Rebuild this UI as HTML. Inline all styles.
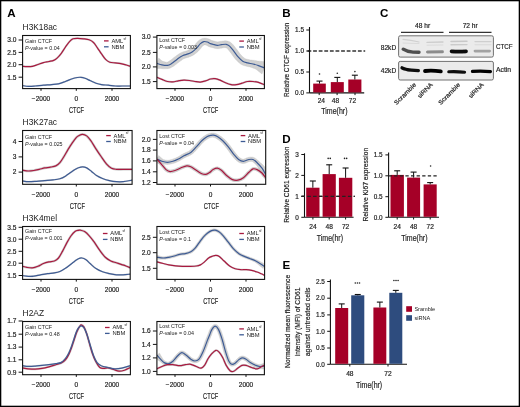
<!DOCTYPE html><html><head><meta charset="utf-8"><style>html,body{margin:0;padding:0;background:#fff;}svg{display:block;will-change:transform;}text{font-family:"Liberation Sans", sans-serif;}.b{stroke:#222;stroke-width:0.18px;}</style></head><body>
<svg width="520" height="407" viewBox="0 0 520 407">
<defs><filter id="bl" x="-20%" y="-50%" width="140%" height="200%"><feGaussianBlur stdDeviation="0.7"/></filter><filter id="bl2" x="-20%" y="-50%" width="140%" height="200%"><feGaussianBlur stdDeviation="0.45"/></filter></defs>
<rect x="0" y="0" width="520" height="407" fill="#fff"/>
<text x="7.2" y="16.6" font-size="11.6" font-weight="bold" fill="#000">A</text>
<text x="282.2" y="16.7" font-size="11.6" font-weight="bold" fill="#000">B</text>
<text x="380" y="16.6" font-size="11.6" font-weight="bold" fill="#000">C</text>
<text x="282.2" y="142.6" font-size="11.6" font-weight="bold" fill="#000">D</text>
<text x="282.6" y="269.2" font-size="11.6" font-weight="bold" fill="#000">E</text>
<g clip-path="url(#clip22_35)">
<path d="M22.5,66.3 C23.23,66.35 25.25,66.6 26.9,66.6 C28.55,66.6 30.57,66.65 32.4,66.3 C34.23,65.95 36.07,65.12 37.9,64.5 C39.73,63.88 41.57,63.1 43.4,62.6 C45.23,62.1 47.18,61.87 48.9,61.5 C50.62,61.13 52.33,60.97 53.7,60.4 C55.07,59.83 55.83,59.28 57.1,58.1 C58.37,56.92 59.92,55.13 61.3,53.3 C62.68,51.47 64.03,49.05 65.4,47.1 C66.77,45.15 68.23,42.98 69.5,41.6 C70.77,40.22 71.63,39.35 73,38.8 C74.37,38.25 75.95,38.3 77.7,38.3 C79.45,38.3 81.6,38.55 83.5,38.8 C85.4,39.05 87.43,39.18 89.1,39.8 C90.77,40.42 92.12,41.17 93.5,42.5 C94.88,43.83 96.07,45.9 97.4,47.8 C98.73,49.7 100.13,51.97 101.5,53.9 C102.87,55.83 104.22,58.02 105.6,59.4 C106.98,60.78 108.18,61.62 109.8,62.2 C111.42,62.78 113.47,62.67 115.3,62.9 C117.13,63.13 118.97,63.25 120.8,63.6 C122.63,63.95 124.7,64.55 126.3,65 C127.9,65.45 129.72,66.08 130.4,66.3" fill="none" stroke="#bdbdbd" stroke-opacity="0.75" stroke-width="2" stroke-linecap="round"/>
<path d="M22.5,85.6 C23.47,85.72 26.2,86.23 28.3,86.3 C30.4,86.37 32.58,86.18 35.1,86 C37.62,85.82 40.65,85.43 43.4,85.2 C46.15,84.97 49.08,84.83 51.6,84.6 C54.12,84.37 56.2,84.32 58.5,83.8 C60.8,83.28 63.1,82.35 65.4,81.5 C67.7,80.65 70.3,79.37 72.3,78.7 C74.3,78.03 75.97,77.73 77.4,77.5 C78.83,77.27 79.63,77.17 80.9,77.3 C82.17,77.43 83.4,77.72 85,78.3 C86.6,78.88 88.67,79.98 90.5,80.8 C92.33,81.62 94.17,82.57 96,83.2 C97.83,83.83 99.43,84.27 101.5,84.6 C103.57,84.93 106.1,84.97 108.4,85.2 C110.7,85.43 113.02,85.87 115.3,86 C117.58,86.13 119.58,86 122.1,86 C124.62,86 129.02,86 130.4,86" fill="none" stroke="#bdbdbd" stroke-opacity="0.75" stroke-width="1.6" stroke-linecap="round"/>
<path d="M22.5,66.3 C23.23,66.35 25.25,66.6 26.9,66.6 C28.55,66.6 30.57,66.65 32.4,66.3 C34.23,65.95 36.07,65.12 37.9,64.5 C39.73,63.88 41.57,63.1 43.4,62.6 C45.23,62.1 47.18,61.87 48.9,61.5 C50.62,61.13 52.33,60.97 53.7,60.4 C55.07,59.83 55.83,59.28 57.1,58.1 C58.37,56.92 59.92,55.13 61.3,53.3 C62.68,51.47 64.03,49.05 65.4,47.1 C66.77,45.15 68.23,42.98 69.5,41.6 C70.77,40.22 71.63,39.35 73,38.8 C74.37,38.25 75.95,38.3 77.7,38.3 C79.45,38.3 81.6,38.55 83.5,38.8 C85.4,39.05 87.43,39.18 89.1,39.8 C90.77,40.42 92.12,41.17 93.5,42.5 C94.88,43.83 96.07,45.9 97.4,47.8 C98.73,49.7 100.13,51.97 101.5,53.9 C102.87,55.83 104.22,58.02 105.6,59.4 C106.98,60.78 108.18,61.62 109.8,62.2 C111.42,62.78 113.47,62.67 115.3,62.9 C117.13,63.13 118.97,63.25 120.8,63.6 C122.63,63.95 124.7,64.55 126.3,65 C127.9,65.45 129.72,66.08 130.4,66.3" fill="none" stroke="#a8193f" stroke-width="1.2"/>
<path d="M22.5,85.6 C23.47,85.72 26.2,86.23 28.3,86.3 C30.4,86.37 32.58,86.18 35.1,86 C37.62,85.82 40.65,85.43 43.4,85.2 C46.15,84.97 49.08,84.83 51.6,84.6 C54.12,84.37 56.2,84.32 58.5,83.8 C60.8,83.28 63.1,82.35 65.4,81.5 C67.7,80.65 70.3,79.37 72.3,78.7 C74.3,78.03 75.97,77.73 77.4,77.5 C78.83,77.27 79.63,77.17 80.9,77.3 C82.17,77.43 83.4,77.72 85,78.3 C86.6,78.88 88.67,79.98 90.5,80.8 C92.33,81.62 94.17,82.57 96,83.2 C97.83,83.83 99.43,84.27 101.5,84.6 C103.57,84.93 106.1,84.97 108.4,85.2 C110.7,85.43 113.02,85.87 115.3,86 C117.58,86.13 119.58,86 122.1,86 C124.62,86 129.02,86 130.4,86" fill="none" stroke="#3d5b94" stroke-width="1.2"/>
</g>
<clipPath id="clip22_35"><rect x="22.6" y="35.5" width="107.8" height="53.1"/></clipPath>
<rect x="22.6" y="35.5" width="107.8" height="53.1" fill="none" stroke="#111" stroke-width="1.1"/>
<line x1="18.6" y1="40" x2="22.6" y2="40" stroke="#111" stroke-width="1"/>
<text x="16.5" y="42.3" font-size="6.6" text-anchor="end" fill="#222" class="b">3.0</text>
<line x1="18.6" y1="52.4" x2="22.6" y2="52.4" stroke="#111" stroke-width="1"/>
<text x="16.5" y="54.7" font-size="6.6" text-anchor="end" fill="#222" class="b">2.5</text>
<line x1="18.6" y1="64.7" x2="22.6" y2="64.7" stroke="#111" stroke-width="1"/>
<text x="16.5" y="67" font-size="6.6" text-anchor="end" fill="#222" class="b">2.0</text>
<line x1="18.6" y1="77.2" x2="22.6" y2="77.2" stroke="#111" stroke-width="1"/>
<text x="16.5" y="79.5" font-size="6.6" text-anchor="end" fill="#222" class="b">1.5</text>
<line x1="41" y1="88.6" x2="41" y2="90.8" stroke="#111" stroke-width="1"/>
<text x="41" y="100.8" font-size="6.5" text-anchor="middle" fill="#222" class="b">−2000</text>
<line x1="76.3" y1="88.6" x2="76.3" y2="90.8" stroke="#111" stroke-width="1"/>
<text x="76.3" y="100.8" font-size="6.5" text-anchor="middle" fill="#222" class="b">0</text>
<line x1="112" y1="88.6" x2="112" y2="90.8" stroke="#111" stroke-width="1"/>
<text x="112" y="100.8" font-size="6.5" text-anchor="middle" fill="#222" class="b">2000</text>
<text x="76.5" y="113.2" font-size="9.8" text-anchor="middle" textLength="15.2" lengthAdjust="spacingAndGlyphs" fill="#222" class="b">CTCF</text>
<text x="25" y="42.9" font-size="5.35" fill="#222">Gain CTCF</text>
<text x="25" y="49.8" font-size="5.35" fill="#222"><tspan font-style="italic">P</tspan>-value = 0.04</text>
<line x1="104" y1="40.9" x2="108.6" y2="40.9" stroke="#a8193f" stroke-width="1.3"/>
<line x1="104" y1="46.8" x2="108.6" y2="46.8" stroke="#3d5b94" stroke-width="1.3"/>
<text x="111.4" y="42.8" font-size="5.8" fill="#222">AML</text>
<text x="123.6" y="39.6" font-size="3.2" fill="#222">sf</text>
<text x="111.4" y="48.7" font-size="5.8" fill="#222">NBM</text>
<text x="22.6" y="29.9" font-size="8.4" textLength="34.4" lengthAdjust="spacingAndGlyphs" fill="#222">H3K18ac</text>
<g clip-path="url(#clip156_35)">
<path d="M155.28,68.73 L155.5,68.7 L155.78,68.66 L156.15,68.63 L156.59,68.62 L157.08,68.6 L157.62,68.58 L158.19,68.56 L158.78,68.54 L159.39,68.51 L160,68.47 L160.59,68.55 L161.15,68.62 L161.66,68.66 L162.15,68.69 L162.67,68.73 L163.2,68.76 L163.75,68.78 L164.31,68.79 L164.88,68.79 L165.45,68.78 L166.03,68.76 L166.63,68.76 L167.23,68.74 L167.83,68.68 L168.39,68.59 L168.92,68.47 L169.44,68.33 L169.94,68.17 L170.42,67.98 L170.87,67.78 L171.3,67.57 L171.71,67.35 L172.1,67.12 L172.48,66.89 L172.86,66.65 L173.29,66.39 L173.77,66.07 L174.27,65.72 L174.77,65.36 L175.27,64.98 L175.76,64.59 L176.24,64.21 L176.72,63.82 L177.19,63.44 L177.65,63.08 L178.1,62.73 L178.53,62.4 L178.96,62.09 L179.42,61.76 L179.89,61.42 L180.35,61.08 L180.8,60.75 L181.24,60.43 L181.67,60.13 L182.09,59.83 L182.5,59.56 L182.89,59.31 L183.28,59.08 L183.64,58.87 L183.98,58.69 L184.3,58.55 L184.63,58.41 L184.99,58.28 L185.37,58.16 L185.78,58.04 L186.22,57.92 L186.67,57.8 L187.15,57.68 L187.64,57.54 L188.16,57.39 L188.69,57.22 L189.2,57.03 L189.63,56.86 L190.02,56.7 L190.41,56.55 L190.79,56.39 L191.17,56.22 L191.56,56.04 L191.95,55.86 L192.34,55.66 L192.74,55.44 L193.14,55.21 L193.55,54.97 L193.96,54.7 L194.36,54.43 L194.76,54.15 L195.16,53.85 L195.56,53.55 L195.96,53.23 L196.36,52.91 L196.75,52.58 L197.14,52.24 L197.53,51.89 L197.92,51.53 L198.3,51.16 L198.7,50.77 L199.13,50.32 L199.55,49.85 L199.95,49.38 L200.33,48.91 L200.7,48.44 L201.05,48 L201.39,47.57 L201.71,47.18 L202,46.82 L202.27,46.52 L202.49,46.28 L202.7,46.08 L202.92,45.89 L203.14,45.7 L203.35,45.54 L203.54,45.4 L203.71,45.28 L203.86,45.19 L204,45.11 L204.12,45.05 L204.23,45.01 L204.34,44.97 L204.45,44.93 L204.54,44.91 L204.59,44.9 L204.63,44.9 L204.69,44.9 L204.78,44.9 L204.9,44.91 L205.05,44.93 L205.21,44.96 L205.4,45 L205.61,45.05 L205.83,45.11 L206.08,45.18 L206.28,45.24 L206.39,45.28 L206.5,45.32 L206.64,45.39 L206.82,45.48 L207.03,45.6 L207.26,45.73 L207.52,45.88 L207.81,46.05 L208.11,46.22 L208.45,46.4 L208.83,46.59 L209.21,46.75 L209.56,46.89 L209.86,46.99 L210.15,47.09 L210.43,47.17 L210.7,47.24 L210.95,47.3 L211.18,47.36 L211.4,47.41 L211.61,47.45 L211.82,47.5 L212.04,47.55 L212.26,47.61 L212.49,47.67 L212.75,47.74 L213.06,47.84 L213.41,47.94 L213.78,48.06 L214.19,48.17 L214.62,48.29 L215.07,48.4 L215.55,48.51 L216.05,48.6 L216.58,48.67 L217.13,48.72 L217.69,48.73 L218.22,48.71 L218.72,48.66 L219.18,48.59 L219.61,48.52 L220,48.44 L220.36,48.37 L220.69,48.3 L221,48.24 L221.28,48.18 L221.54,48.14 L221.84,48.1 L222.23,48.06 L222.68,47.99 L223.1,47.93 L223.51,47.87 L223.91,47.81 L224.28,47.76 L224.62,47.72 L224.93,47.69 L225.19,47.68 L225.41,47.68 L225.55,47.69 L225.67,47.7 L225.82,47.73 L225.97,47.77 L226.09,47.8 L226.18,47.83 L226.25,47.86 L226.32,47.9 L226.4,47.95 L226.51,48.02 L226.65,48.12 L226.83,48.26 L227.04,48.44 L227.26,48.64 L227.48,48.85 L227.72,49.1 L228,49.41 L228.3,49.76 L228.61,50.15 L228.94,50.56 L229.29,51 L229.63,51.45 L229.99,51.92 L230.35,52.39 L230.71,52.87 L231.06,53.31 L231.38,53.73 L231.68,54.15 L232,54.58 L232.32,55.04 L232.64,55.5 L232.98,55.99 L233.33,56.48 L233.69,56.98 L234.07,57.48 L234.46,57.99 L234.87,58.5 L235.29,58.99 L235.7,59.45 L236.1,59.89 L236.52,60.34 L236.95,60.79 L237.39,61.24 L237.84,61.69 L238.3,62.13 L238.78,62.56 L239.26,62.97 L239.76,63.37 L240.28,63.76 L240.81,64.13 L241.37,64.47 L241.93,64.77 L242.48,65.03 L243.02,65.25 L243.54,65.44 L244.04,65.6 L244.52,65.74 L244.97,65.86 L245.41,65.97 L245.82,66.07 L246.21,66.17 L246.62,66.28 L247.11,66.41 L247.63,66.53 L248.14,66.64 L248.64,66.73 L249.13,66.82 L249.61,66.93 L250.06,67.05 L250.5,67.18 L250.93,67.3 L251.34,67.43 L251.73,67.56 L252.11,67.69 L252.52,67.84 L252.94,68 L253.36,68.15 L253.77,68.31 L254.18,68.47 L254.59,68.64 L255.01,68.81 L255.42,68.98 L255.83,69.17 L256.21,69.45 L256.6,69.74 L256.97,70.02 L257.36,70.33 L257.78,70.66 L258.23,71.03 L258.71,71.4 L259.19,71.79 L259.67,72.17 L260.13,72.55 L260.58,72.91 L260.99,73.24 L261.37,73.54 L261.71,73.8 L261.98,74.01 L266.82,61.79 L266.52,61.77 L266.14,61.74 L265.67,61.7 L265.13,61.65 L264.55,61.59 L263.92,61.53 L263.27,61.46 L262.6,61.4 L261.94,61.33 L261.28,61.27 L260.63,61.22 L260.03,61.18 L259.46,61.14 L258.91,61.12 L258.37,61.1 L257.86,61.01 L257.35,60.91 L256.86,60.81 L256.36,60.72 L255.87,60.63 L255.38,60.54 L254.89,60.46 L254.4,60.38 L253.89,60.31 L253.35,60.23 L252.81,60.16 L252.29,60.11 L251.78,60.06 L251.28,60.02 L250.81,59.99 L250.35,59.93 L249.92,59.85 L249.51,59.78 L249.12,59.7 L248.76,59.61 L248.38,59.52 L247.95,59.41 L247.5,59.3 L247.1,59.2 L246.72,59.1 L246.38,59.01 L246.07,58.92 L245.79,58.84 L245.53,58.74 L245.29,58.65 L245.05,58.54 L244.83,58.42 L244.59,58.27 L244.32,58.09 L244.02,57.87 L243.71,57.62 L243.37,57.33 L243.03,57.02 L242.67,56.69 L242.31,56.33 L241.95,55.96 L241.58,55.58 L241.21,55.19 L240.85,54.79 L240.51,54.41 L240.2,54.05 L239.89,53.68 L239.59,53.29 L239.28,52.87 L238.96,52.44 L238.64,51.99 L238.32,51.52 L237.98,51.05 L237.64,50.56 L237.28,50.07 L236.91,49.57 L236.54,49.09 L236.19,48.64 L235.84,48.19 L235.49,47.72 L235.12,47.24 L234.75,46.76 L234.37,46.28 L233.98,45.79 L233.59,45.32 L233.19,44.86 L232.78,44.4 L232.36,43.97 L231.94,43.56 L231.55,43.22 L231.18,42.91 L230.8,42.61 L230.41,42.33 L229.99,42.06 L229.56,41.81 L229.1,41.59 L228.64,41.4 L228.17,41.23 L227.7,41.1 L227.24,40.99 L226.73,40.9 L226.14,40.83 L225.54,40.8 L224.97,40.8 L224.43,40.83 L223.91,40.88 L223.41,40.94 L222.94,41.01 L222.49,41.07 L222.06,41.14 L221.68,41.2 L221.33,41.25 L220.96,41.3 L220.53,41.35 L220.08,41.43 L219.66,41.51 L219.28,41.59 L218.93,41.66 L218.63,41.73 L218.35,41.78 L218.12,41.83 L217.91,41.86 L217.74,41.88 L217.59,41.88 L217.47,41.88 L217.32,41.87 L217.13,41.84 L216.89,41.8 L216.63,41.75 L216.34,41.67 L216.03,41.59 L215.7,41.5 L215.36,41.4 L215.02,41.3 L214.67,41.19 L214.3,41.09 L213.94,40.99 L213.62,40.92 L213.34,40.85 L213.09,40.8 L212.87,40.75 L212.69,40.71 L212.53,40.67 L212.39,40.64 L212.27,40.61 L212.16,40.57 L212.04,40.54 L211.91,40.49 L211.79,40.45 L211.68,40.4 L211.56,40.34 L211.38,40.25 L211.17,40.13 L210.93,39.99 L210.65,39.83 L210.34,39.66 L210,39.47 L209.63,39.28 L209.22,39.09 L208.77,38.91 L208.32,38.76 L207.96,38.65 L207.63,38.56 L207.28,38.47 L206.9,38.38 L206.5,38.29 L206.08,38.22 L205.63,38.16 L205.16,38.12 L204.66,38.11 L204.14,38.13 L203.59,38.19 L203.06,38.29 L202.58,38.42 L202.13,38.56 L201.69,38.73 L201.25,38.92 L200.83,39.13 L200.42,39.36 L200.01,39.61 L199.62,39.88 L199.24,40.16 L198.87,40.46 L198.5,40.77 L198.1,41.12 L197.67,41.54 L197.25,41.99 L196.85,42.45 L196.47,42.9 L196.1,43.36 L195.75,43.82 L195.4,44.26 L195.07,44.68 L194.75,45.08 L194.45,45.44 L194.17,45.75 L193.9,46.03 L193.6,46.32 L193.29,46.63 L192.98,46.92 L192.66,47.2 L192.35,47.48 L192.04,47.74 L191.73,47.99 L191.43,48.24 L191.13,48.47 L190.83,48.69 L190.53,48.9 L190.24,49.1 L189.97,49.27 L189.71,49.43 L189.46,49.58 L189.21,49.71 L188.96,49.84 L188.7,49.97 L188.43,50.09 L188.14,50.22 L187.84,50.35 L187.5,50.49 L187.15,50.63 L186.8,50.77 L186.49,50.88 L186.17,50.99 L185.81,51.1 L185.39,51.21 L184.94,51.33 L184.46,51.47 L183.94,51.61 L183.4,51.77 L182.83,51.96 L182.23,52.17 L181.63,52.42 L181.02,52.71 L180.44,53.01 L179.89,53.32 L179.36,53.65 L178.84,53.99 L178.33,54.33 L177.83,54.67 L177.35,55.02 L176.87,55.37 L176.4,55.71 L175.95,56.05 L175.5,56.38 L175.04,56.71 L174.54,57.08 L174.03,57.47 L173.53,57.86 L173.04,58.26 L172.55,58.65 L172.08,59.03 L171.63,59.4 L171.19,59.74 L170.78,60.06 L170.4,60.34 L170.05,60.59 L169.71,60.81 L169.36,61.03 L169.02,61.24 L168.72,61.43 L168.46,61.58 L168.23,61.71 L168.03,61.81 L167.85,61.89 L167.7,61.95 L167.54,62 L167.37,62.05 L167.18,62.09 L166.97,62.12 L166.75,62.15 L166.49,62.16 L166.18,62.16 L165.84,62.1 L165.48,62.02 L165.09,61.92 L164.69,61.81 L164.28,61.7 L163.87,61.57 L163.45,61.44 L163.03,61.31 L162.65,61.18 L162.32,61.06 L161.98,60.91 L161.65,60.61 L161.3,60.3 L160.94,59.98 L160.59,59.65 L160.24,59.34 L159.91,59.04 L159.59,58.75 L159.28,58.49 L158.97,58.26 L158.72,58.07 Z" fill="#c4c4c4" fill-opacity="0.8" stroke="#c4c4c4" stroke-opacity="0.5" stroke-width="0.6"/>
<path d="M157,77.3 C157.82,77.65 160.17,78.7 161.9,79.4 C163.63,80.1 165.57,81.08 167.4,81.5 C169.23,81.92 171.07,82.02 172.9,81.9 C174.73,81.78 176.57,81.1 178.4,80.8 C180.23,80.5 182.07,80.15 183.9,80.1 C185.73,80.05 187.57,80.27 189.4,80.5 C191.23,80.73 193.07,81.23 194.9,81.5 C196.73,81.77 198.57,82.22 200.4,82.1 C202.23,81.98 204.22,81.32 205.9,80.8 C207.58,80.28 208.95,79.35 210.5,79 C212.05,78.65 213.62,78.52 215.2,78.7 C216.78,78.88 218.28,79.42 220,80.1 C221.72,80.78 223.67,82.05 225.5,82.8 C227.33,83.55 229.17,84.3 231,84.6 C232.83,84.9 234.67,84.83 236.5,84.6 C238.33,84.37 240.17,83.72 242,83.2 C243.83,82.68 245.67,81.78 247.5,81.5 C249.33,81.22 251.17,81.35 253,81.5 C254.83,81.65 256.6,81.85 258.5,82.4 C260.4,82.95 263.42,84.4 264.4,84.8" fill="none" stroke="#bdbdbd" stroke-opacity="0.75" stroke-width="2" stroke-linecap="round"/>
<path d="M157,63.4 C157.82,63.65 160.17,64.57 161.9,64.9 C163.63,65.23 165.8,65.62 167.4,65.4 C169,65.18 169.9,64.6 171.5,63.6 C173.1,62.6 175.17,60.72 177,59.4 C178.83,58.08 180.67,56.62 182.5,55.7 C184.33,54.78 186.4,54.53 188,53.9 C189.6,53.27 190.72,52.82 192.1,51.9 C193.48,50.98 194.92,49.78 196.3,48.4 C197.68,47.02 199.15,44.73 200.4,43.6 C201.65,42.47 202.65,41.87 203.8,41.6 C204.95,41.33 206.18,41.67 207.3,42 C208.42,42.33 209.53,43.22 210.5,43.6 C211.47,43.98 211.97,44.02 213.1,44.3 C214.23,44.58 215.92,45.23 217.3,45.3 C218.68,45.37 219.92,44.87 221.4,44.7 C222.88,44.53 224.83,44.07 226.2,44.3 C227.57,44.53 228.33,44.95 229.6,46.1 C230.87,47.25 232.42,49.43 233.8,51.2 C235.18,52.97 236.42,55.03 237.9,56.7 C239.38,58.37 241.1,60.17 242.7,61.2 C244.3,62.23 245.78,62.43 247.5,62.9 C249.22,63.37 251.17,63.55 253,64 C254.83,64.45 256.6,64.95 258.5,65.6 C260.4,66.25 263.42,67.52 264.4,67.9" fill="none" stroke="#3d5b94" stroke-width="1.2"/>
<path d="M157,77.3 C157.82,77.65 160.17,78.7 161.9,79.4 C163.63,80.1 165.57,81.08 167.4,81.5 C169.23,81.92 171.07,82.02 172.9,81.9 C174.73,81.78 176.57,81.1 178.4,80.8 C180.23,80.5 182.07,80.15 183.9,80.1 C185.73,80.05 187.57,80.27 189.4,80.5 C191.23,80.73 193.07,81.23 194.9,81.5 C196.73,81.77 198.57,82.22 200.4,82.1 C202.23,81.98 204.22,81.32 205.9,80.8 C207.58,80.28 208.95,79.35 210.5,79 C212.05,78.65 213.62,78.52 215.2,78.7 C216.78,78.88 218.28,79.42 220,80.1 C221.72,80.78 223.67,82.05 225.5,82.8 C227.33,83.55 229.17,84.3 231,84.6 C232.83,84.9 234.67,84.83 236.5,84.6 C238.33,84.37 240.17,83.72 242,83.2 C243.83,82.68 245.67,81.78 247.5,81.5 C249.33,81.22 251.17,81.35 253,81.5 C254.83,81.65 256.6,81.85 258.5,82.4 C260.4,82.95 263.42,84.4 264.4,84.8" fill="none" stroke="#a8193f" stroke-width="1.2"/>
</g>
<clipPath id="clip156_35"><rect x="156.9" y="35.5" width="107.5" height="53.1"/></clipPath>
<rect x="156.9" y="35.5" width="107.5" height="53.1" fill="none" stroke="#111" stroke-width="1.1"/>
<line x1="152.9" y1="37.1" x2="156.9" y2="37.1" stroke="#111" stroke-width="1"/>
<text x="150.8" y="39.4" font-size="6.6" text-anchor="end" fill="#222" class="b">3.0</text>
<line x1="152.9" y1="52.4" x2="156.9" y2="52.4" stroke="#111" stroke-width="1"/>
<text x="150.8" y="54.7" font-size="6.6" text-anchor="end" fill="#222" class="b">2.5</text>
<line x1="152.9" y1="66.9" x2="156.9" y2="66.9" stroke="#111" stroke-width="1"/>
<text x="150.8" y="69.2" font-size="6.6" text-anchor="end" fill="#222" class="b">2.0</text>
<line x1="152.9" y1="81.6" x2="156.9" y2="81.6" stroke="#111" stroke-width="1"/>
<text x="150.8" y="83.9" font-size="6.6" text-anchor="end" fill="#222" class="b">1.5</text>
<line x1="175" y1="88.6" x2="175" y2="90.8" stroke="#111" stroke-width="1"/>
<text x="175" y="100.8" font-size="6.5" text-anchor="middle" fill="#222" class="b">−2000</text>
<line x1="210.5" y1="88.6" x2="210.5" y2="90.8" stroke="#111" stroke-width="1"/>
<text x="210.5" y="100.8" font-size="6.5" text-anchor="middle" fill="#222" class="b">0</text>
<line x1="246" y1="88.6" x2="246" y2="90.8" stroke="#111" stroke-width="1"/>
<text x="246" y="100.8" font-size="6.5" text-anchor="middle" fill="#222" class="b">2000</text>
<text x="210.65" y="113.2" font-size="9.8" text-anchor="middle" textLength="15.2" lengthAdjust="spacingAndGlyphs" fill="#222" class="b">CTCF</text>
<text x="159.3" y="42.4" font-size="5.35" fill="#222">Lost CTCF</text>
<text x="159.3" y="49.3" font-size="5.35" fill="#222"><tspan font-style="italic">P</tspan>-value = 0.003</text>
<line x1="239.3" y1="41.1" x2="243.9" y2="41.1" stroke="#a8193f" stroke-width="1.3"/>
<line x1="239.3" y1="47" x2="243.9" y2="47" stroke="#3d5b94" stroke-width="1.3"/>
<text x="246.7" y="43" font-size="5.8" fill="#222">AML</text>
<text x="258.9" y="39.8" font-size="3.2" fill="#222">sf</text>
<text x="246.7" y="48.9" font-size="5.8" fill="#222">NBM</text>
<g clip-path="url(#clip22_130)">
<path d="M22.5,170.3 C23.47,170.42 26.42,170.97 28.3,171 C30.18,171.03 31.97,170.78 33.8,170.5 C35.63,170.22 37.47,169.73 39.3,169.3 C41.13,168.87 42.97,168.25 44.8,167.9 C46.63,167.55 48.47,167.53 50.3,167.2 C52.13,166.87 54.2,166.65 55.8,165.9 C57.4,165.15 58.53,164.27 59.9,162.7 C61.27,161.13 62.63,158.72 64,156.5 C65.37,154.28 66.72,151.68 68.1,149.4 C69.48,147.12 70.98,144.73 72.3,142.8 C73.62,140.87 74.95,138.97 76,137.8 C77.05,136.63 77.5,136.38 78.6,135.8 C79.7,135.22 81.25,134.28 82.6,134.3 C83.95,134.32 85.33,134.83 86.7,135.9 C88.07,136.97 89.32,138.63 90.8,140.7 C92.28,142.77 93.88,145.67 95.6,148.3 C97.32,150.93 99.27,153.87 101.1,156.5 C102.93,159.13 104.87,162.15 106.6,164.1 C108.33,166.05 109.88,167.33 111.5,168.2 C113.12,169.07 114.37,169.12 116.3,169.3 C118.23,169.48 120.47,169.3 123.1,169.3 C125.73,169.3 130.6,169.3 132.1,169.3" fill="none" stroke="#bdbdbd" stroke-opacity="0.75" stroke-width="2.6" stroke-linecap="round"/>
<path d="M22.5,181 C23.47,181.12 25.97,181.65 28.3,181.7 C30.63,181.75 33.75,181.48 36.5,181.3 C39.25,181.12 42.05,180.83 44.8,180.6 C47.55,180.37 50.48,180.2 53,179.9 C55.52,179.6 57.83,179.42 59.9,178.8 C61.97,178.18 63.57,177.28 65.4,176.2 C67.23,175.12 69.3,173.42 70.9,172.3 C72.5,171.18 73.75,170.25 75,169.5 C76.25,168.75 77.13,168.25 78.4,167.8 C79.67,167.35 81.22,166.78 82.6,166.8 C83.98,166.82 85.22,167.13 86.7,167.9 C88.18,168.67 89.78,170.08 91.5,171.4 C93.22,172.72 95.17,174.62 97,175.8 C98.83,176.98 100.43,177.7 102.5,178.5 C104.57,179.3 107.1,180.07 109.4,180.6 C111.7,181.13 114.02,181.52 116.3,181.7 C118.58,181.88 120.47,181.95 123.1,181.7 C125.73,181.45 130.6,180.45 132.1,180.2" fill="none" stroke="#bdbdbd" stroke-opacity="0.75" stroke-width="1.6" stroke-linecap="round"/>
<path d="M22.5,170.3 C23.47,170.42 26.42,170.97 28.3,171 C30.18,171.03 31.97,170.78 33.8,170.5 C35.63,170.22 37.47,169.73 39.3,169.3 C41.13,168.87 42.97,168.25 44.8,167.9 C46.63,167.55 48.47,167.53 50.3,167.2 C52.13,166.87 54.2,166.65 55.8,165.9 C57.4,165.15 58.53,164.27 59.9,162.7 C61.27,161.13 62.63,158.72 64,156.5 C65.37,154.28 66.72,151.68 68.1,149.4 C69.48,147.12 70.98,144.73 72.3,142.8 C73.62,140.87 74.95,138.97 76,137.8 C77.05,136.63 77.5,136.38 78.6,135.8 C79.7,135.22 81.25,134.28 82.6,134.3 C83.95,134.32 85.33,134.83 86.7,135.9 C88.07,136.97 89.32,138.63 90.8,140.7 C92.28,142.77 93.88,145.67 95.6,148.3 C97.32,150.93 99.27,153.87 101.1,156.5 C102.93,159.13 104.87,162.15 106.6,164.1 C108.33,166.05 109.88,167.33 111.5,168.2 C113.12,169.07 114.37,169.12 116.3,169.3 C118.23,169.48 120.47,169.3 123.1,169.3 C125.73,169.3 130.6,169.3 132.1,169.3" fill="none" stroke="#a8193f" stroke-width="1.2"/>
<path d="M22.5,181 C23.47,181.12 25.97,181.65 28.3,181.7 C30.63,181.75 33.75,181.48 36.5,181.3 C39.25,181.12 42.05,180.83 44.8,180.6 C47.55,180.37 50.48,180.2 53,179.9 C55.52,179.6 57.83,179.42 59.9,178.8 C61.97,178.18 63.57,177.28 65.4,176.2 C67.23,175.12 69.3,173.42 70.9,172.3 C72.5,171.18 73.75,170.25 75,169.5 C76.25,168.75 77.13,168.25 78.4,167.8 C79.67,167.35 81.22,166.78 82.6,166.8 C83.98,166.82 85.22,167.13 86.7,167.9 C88.18,168.67 89.78,170.08 91.5,171.4 C93.22,172.72 95.17,174.62 97,175.8 C98.83,176.98 100.43,177.7 102.5,178.5 C104.57,179.3 107.1,180.07 109.4,180.6 C111.7,181.13 114.02,181.52 116.3,181.7 C118.58,181.88 120.47,181.95 123.1,181.7 C125.73,181.45 130.6,180.45 132.1,180.2" fill="none" stroke="#3d5b94" stroke-width="1.2"/>
</g>
<clipPath id="clip22_130"><rect x="22.6" y="130.5" width="109.5" height="53.8"/></clipPath>
<rect x="22.6" y="130.5" width="109.5" height="53.8" fill="none" stroke="#111" stroke-width="1.1"/>
<line x1="18.6" y1="141.5" x2="22.6" y2="141.5" stroke="#111" stroke-width="1"/>
<text x="16.5" y="143.8" font-size="6.6" text-anchor="end" fill="#222" class="b">4</text>
<line x1="18.6" y1="156.9" x2="22.6" y2="156.9" stroke="#111" stroke-width="1"/>
<text x="16.5" y="159.2" font-size="6.6" text-anchor="end" fill="#222" class="b">3</text>
<line x1="18.6" y1="172.1" x2="22.6" y2="172.1" stroke="#111" stroke-width="1"/>
<text x="16.5" y="174.4" font-size="6.6" text-anchor="end" fill="#222" class="b">2</text>
<line x1="41" y1="184.3" x2="41" y2="186.5" stroke="#111" stroke-width="1"/>
<text x="41" y="196.5" font-size="6.5" text-anchor="middle" fill="#222" class="b">−2000</text>
<line x1="76.3" y1="184.3" x2="76.3" y2="186.5" stroke="#111" stroke-width="1"/>
<text x="76.3" y="196.5" font-size="6.5" text-anchor="middle" fill="#222" class="b">0</text>
<line x1="112" y1="184.3" x2="112" y2="186.5" stroke="#111" stroke-width="1"/>
<text x="112" y="196.5" font-size="6.5" text-anchor="middle" fill="#222" class="b">2000</text>
<text x="77.35" y="208.9" font-size="9.8" text-anchor="middle" textLength="15.2" lengthAdjust="spacingAndGlyphs" fill="#222" class="b">CTCF</text>
<text x="25" y="138.6" font-size="5.35" fill="#222">Gain CTCF</text>
<text x="25" y="145.5" font-size="5.35" fill="#222"><tspan font-style="italic">P</tspan>-value = 0.025</text>
<line x1="106.2" y1="135.6" x2="110.8" y2="135.6" stroke="#a8193f" stroke-width="1.3"/>
<line x1="106.2" y1="141.5" x2="110.8" y2="141.5" stroke="#3d5b94" stroke-width="1.3"/>
<text x="113.6" y="137.5" font-size="5.8" fill="#222">AML</text>
<text x="125.8" y="134.3" font-size="3.2" fill="#222">sf</text>
<text x="113.6" y="143.4" font-size="5.8" fill="#222">NBM</text>
<text x="22.6" y="125.2" font-size="8.4" fill="#222">H3K27ac</text>
<g clip-path="url(#clip156_130)">
<path d="M155.37,162.85 L155.6,162.87 L155.89,162.91 L156.26,162.97 L156.7,163.04 L157.19,163.13 L157.72,163.22 L158.27,163.31 L158.85,163.4 L159.43,163.48 L160.03,163.55 L160.62,163.61 L161.18,163.64 L161.7,163.65 L162.21,163.65 L162.71,163.71 L163.19,163.83 L163.69,163.95 L164.2,164.06 L164.72,164.15 L165.24,164.24 L165.77,164.31 L166.31,164.36 L166.85,164.39 L167.4,164.4 L167.94,164.39 L168.48,164.36 L169.01,164.31 L169.53,164.25 L170.05,164.17 L170.56,164.07 L171.06,163.97 L171.56,163.85 L172.06,163.73 L172.54,163.6 L173.03,163.46 L173.51,163.32 L174.01,163.16 L174.51,163 L175.01,162.82 L175.5,162.63 L175.99,162.43 L176.48,162.23 L176.96,162.02 L177.45,161.8 L177.92,161.58 L178.4,161.36 L178.87,161.13 L179.36,160.89 L179.85,160.63 L180.34,160.37 L180.81,160.1 L181.27,159.82 L181.73,159.55 L182.17,159.27 L182.62,159 L183.06,158.73 L183.51,158.46 L183.96,158.19 L184.42,157.93 L184.89,157.68 L185.36,157.44 L185.87,157.2 L186.41,156.96 L186.99,156.71 L187.58,156.46 L188.2,156.19 L188.83,155.91 L189.48,155.61 L190.12,155.29 L190.77,154.94 L191.41,154.55 L192.04,154.13 L192.63,153.69 L193.18,153.23 L193.72,152.76 L194.23,152.27 L194.72,151.78 L195.19,151.29 L195.65,150.79 L196.1,150.29 L196.55,149.8 L196.98,149.31 L197.42,148.83 L197.87,148.35 L198.34,147.83 L198.83,147.29 L199.3,146.74 L199.77,146.18 L200.23,145.63 L200.69,145.09 L201.14,144.56 L201.58,144.04 L202.01,143.55 L202.44,143.09 L202.86,142.66 L203.27,142.26 L203.69,141.87 L204.13,141.49 L204.57,141.12 L205.03,140.76 L205.48,140.41 L205.93,140.07 L206.37,139.75 L206.81,139.45 L207.23,139.17 L207.64,138.91 L208.02,138.67 L208.38,138.46 L208.69,138.28 L208.97,138.14 L209.23,138.02 L209.48,137.92 L209.73,137.83 L209.96,137.76 L210.2,137.69 L210.44,137.63 L210.68,137.57 L210.93,137.52 L211.2,137.46 L211.47,137.4 L211.71,137.35 L211.91,137.3 L212.07,137.27 L212.2,137.25 L212.3,137.24 L212.38,137.23 L212.45,137.23 L212.52,137.23 L212.61,137.23 L212.73,137.25 L212.88,137.27 L213.08,137.31 L213.31,137.36 L213.56,137.42 L213.8,137.47 L214.04,137.53 L214.28,137.6 L214.53,137.68 L214.78,137.77 L215.04,137.87 L215.31,137.99 L215.59,138.12 L215.89,138.28 L216.21,138.46 L216.57,138.68 L216.96,138.92 L217.37,139.19 L217.79,139.47 L218.23,139.77 L218.67,140.09 L219.12,140.43 L219.57,140.78 L220.02,141.14 L220.46,141.51 L220.9,141.89 L221.32,142.28 L221.75,142.69 L222.17,143.11 L222.6,143.56 L223.04,144.03 L223.48,144.51 L223.92,145.01 L224.36,145.53 L224.81,146.05 L225.26,146.59 L225.7,147.14 L226.16,147.7 L226.6,148.25 L227.04,148.81 L227.48,149.4 L227.93,150.01 L228.39,150.65 L228.85,151.31 L229.32,151.97 L229.78,152.63 L230.25,153.29 L230.72,153.94 L231.18,154.58 L231.65,155.19 L232.11,155.76 L232.54,156.3 L232.96,156.81 L233.38,157.31 L233.79,157.81 L234.21,158.29 L234.63,158.77 L235.05,159.23 L235.48,159.67 L235.92,160.1 L236.38,160.51 L236.84,160.9 L237.32,161.26 L237.78,161.59 L238.24,161.88 L238.7,162.16 L239.18,162.42 L239.67,162.65 L240.16,162.86 L240.68,163.05 L241.2,163.2 L241.73,163.32 L242.28,163.41 L242.84,163.47 L243.44,163.48 L244.11,163.44 L244.78,163.32 L245.4,163.15 L245.98,162.96 L246.53,162.74 L247.05,162.52 L247.54,162.31 L248,162.11 L248.42,161.94 L248.78,161.8 L249.08,161.71 L249.36,161.64 L249.69,161.58 L250.04,161.52 L250.36,161.46 L250.65,161.42 L250.91,161.39 L251.13,161.38 L251.33,161.37 L251.51,161.38 L251.68,161.4 L251.84,161.43 L252.02,161.48 L252.2,161.54 L252.39,161.63 L252.6,161.74 L252.83,161.87 L253.07,162.04 L253.33,162.23 L253.6,162.45 L253.89,162.7 L254.2,162.97 L254.52,163.27 L254.85,163.59 L255.2,163.93 L255.57,164.28 L255.94,164.64 L256.32,165.02 L256.67,165.47 L257.02,165.95 L257.36,166.45 L257.7,166.95 L258.04,167.46 L258.37,167.98 L258.69,168.49 L259,169 L259.28,169.5 L259.54,169.98 L259.79,170.46 L260.05,170.99 L260.31,171.56 L260.59,172.16 L260.86,172.78 L261.12,173.39 L261.37,173.99 L261.62,174.56 L261.84,175.1 L262.05,175.59 L262.24,176.03 L262.4,176.38 L269,172.62 L268.81,172.36 L268.57,172.02 L268.29,171.6 L267.96,171.11 L267.59,170.57 L267.19,170 L266.77,169.4 L266.33,168.78 L265.88,168.17 L265.41,167.56 L264.93,166.98 L264.46,166.42 L263.98,165.91 L263.49,165.42 L262.99,164.94 L262.48,164.46 L261.97,164.01 L261.45,163.56 L260.93,163.13 L260.42,162.72 L259.92,162.32 L259.45,161.93 L259.03,161.51 L258.63,161.12 L258.26,160.76 L257.89,160.41 L257.52,160.06 L257.15,159.72 L256.78,159.39 L256.4,159.06 L256.01,158.75 L255.61,158.45 L255.19,158.17 L254.75,157.91 L254.28,157.67 L253.8,157.46 L253.31,157.29 L252.82,157.15 L252.33,157.06 L251.86,157.01 L251.39,156.99 L250.94,157 L250.51,157.03 L250.09,157.07 L249.68,157.13 L249.29,157.2 L248.89,157.27 L248.44,157.36 L247.9,157.49 L247.33,157.67 L246.8,157.87 L246.29,158.09 L245.8,158.3 L245.34,158.5 L244.89,158.69 L244.49,158.84 L244.12,158.97 L243.81,159.06 L243.56,159.1 L243.36,159.12 L243.11,159.11 L242.84,159.08 L242.57,159.04 L242.3,158.98 L242.03,158.9 L241.75,158.8 L241.46,158.68 L241.17,158.54 L240.86,158.37 L240.54,158.18 L240.21,157.97 L239.88,157.74 L239.56,157.49 L239.24,157.23 L238.91,156.93 L238.57,156.6 L238.22,156.23 L237.86,155.85 L237.49,155.43 L237.11,154.99 L236.72,154.53 L236.32,154.04 L235.91,153.54 L235.49,153.04 L235.08,152.52 L234.66,151.97 L234.23,151.38 L233.79,150.77 L233.33,150.13 L232.87,149.47 L232.4,148.8 L231.93,148.13 L231.45,147.47 L230.97,146.81 L230.48,146.16 L230,145.55 L229.53,144.97 L229.06,144.4 L228.59,143.83 L228.13,143.27 L227.65,142.71 L227.18,142.16 L226.71,141.62 L226.23,141.1 L225.75,140.58 L225.26,140.08 L224.77,139.59 L224.28,139.12 L223.78,138.66 L223.27,138.22 L222.75,137.79 L222.24,137.38 L221.73,136.98 L221.22,136.61 L220.72,136.25 L220.22,135.91 L219.74,135.58 L219.28,135.28 L218.83,135 L218.39,134.74 L217.95,134.49 L217.52,134.26 L217.09,134.06 L216.68,133.88 L216.28,133.73 L215.9,133.59 L215.53,133.48 L215.17,133.38 L214.83,133.29 L214.52,133.22 L214.22,133.15 L213.92,133.09 L213.62,133.03 L213.32,132.98 L213.01,132.95 L212.71,132.93 L212.41,132.92 L212.11,132.93 L211.82,132.96 L211.55,133 L211.29,133.04 L211.04,133.09 L210.78,133.14 L210.53,133.2 L210.28,133.26 L210.01,133.31 L209.72,133.38 L209.41,133.45 L209.07,133.54 L208.71,133.64 L208.33,133.77 L207.94,133.91 L207.53,134.08 L207.1,134.27 L206.66,134.5 L206.22,134.74 L205.78,135.01 L205.34,135.29 L204.87,135.59 L204.39,135.91 L203.9,136.25 L203.4,136.61 L202.89,136.99 L202.37,137.39 L201.86,137.8 L201.35,138.23 L200.84,138.68 L200.33,139.14 L199.83,139.63 L199.33,140.15 L198.84,140.69 L198.35,141.23 L197.88,141.78 L197.41,142.34 L196.95,142.89 L196.5,143.43 L196.05,143.96 L195.61,144.48 L195.17,144.97 L194.73,145.45 L194.27,145.95 L193.82,146.45 L193.37,146.95 L192.93,147.43 L192.51,147.91 L192.08,148.36 L191.66,148.8 L191.25,149.22 L190.83,149.62 L190.41,150 L189.99,150.35 L189.56,150.67 L189.13,150.96 L188.66,151.24 L188.16,151.52 L187.63,151.78 L187.07,152.04 L186.5,152.3 L185.91,152.55 L185.31,152.81 L184.71,153.07 L184.1,153.34 L183.5,153.62 L182.91,153.92 L182.36,154.22 L181.84,154.52 L181.34,154.81 L180.86,155.1 L180.4,155.39 L179.95,155.66 L179.52,155.93 L179.09,156.19 L178.68,156.44 L178.27,156.67 L177.86,156.9 L177.44,157.11 L177.01,157.33 L176.57,157.54 L176.13,157.75 L175.69,157.96 L175.25,158.16 L174.82,158.34 L174.39,158.52 L173.96,158.7 L173.54,158.86 L173.12,159.01 L172.71,159.15 L172.29,159.28 L171.86,159.41 L171.42,159.53 L170.99,159.65 L170.57,159.75 L170.15,159.85 L169.74,159.94 L169.34,160.01 L168.94,160.08 L168.54,160.13 L168.16,160.16 L167.78,160.19 L167.4,160.2 L167.03,160.19 L166.64,160.16 L166.25,160.13 L165.85,160.07 L165.44,160.01 L165.02,159.93 L164.6,159.84 L164.18,159.75 L163.76,159.64 L163.36,159.46 L162.98,159.21 L162.62,158.96 L162.29,158.71 L161.96,158.43 L161.6,158.13 L161.24,157.81 L160.86,157.49 L160.5,157.16 L160.14,156.84 L159.79,156.53 L159.47,156.24 L159.16,155.97 L158.87,155.74 L158.63,155.55 Z" fill="#c4c4c4" fill-opacity="0.8" stroke="#c4c4c4" stroke-opacity="0.5" stroke-width="0.6"/>
<path d="M157,159.2 C157.82,160.13 160.4,163.07 161.9,164.8 C163.4,166.53 164.63,168.47 166,169.6 C167.37,170.73 168.5,171.48 170.1,171.6 C171.7,171.72 173.77,170.93 175.6,170.3 C177.43,169.67 179.27,168.53 181.1,167.8 C182.93,167.07 184.98,166.07 186.6,165.9 C188.22,165.73 189.18,166.07 190.8,166.8 C192.42,167.53 194.47,169.15 196.3,170.3 C198.13,171.45 200.2,173.02 201.8,173.7 C203.4,174.38 204.62,174.58 205.9,174.4 C207.18,174.22 208.3,173.4 209.5,172.6 C210.7,171.8 211.8,170.33 213.1,169.6 C214.4,168.87 215.92,168.08 217.3,168.2 C218.68,168.32 219.8,169.03 221.4,170.3 C223,171.57 225.07,174.25 226.9,175.8 C228.73,177.35 230.57,178.87 232.4,179.6 C234.23,180.33 236.07,180.5 237.9,180.2 C239.73,179.9 241.57,179.12 243.4,177.8 C245.23,176.48 247.3,173.78 248.9,172.3 C250.5,170.82 251.63,169.35 253,168.9 C254.37,168.45 255.6,168.92 257.1,169.6 C258.6,170.28 260.57,171.63 262,173 C263.43,174.37 265.08,177 265.7,177.8" fill="none" stroke="#bdbdbd" stroke-opacity="0.75" stroke-width="3.5" stroke-linecap="round"/>
<path d="M157,159.2 C157.82,159.55 160.17,160.78 161.9,161.3 C163.63,161.82 165.57,162.3 167.4,162.3 C169.23,162.3 171.07,161.85 172.9,161.3 C174.73,160.75 176.57,159.92 178.4,159 C180.23,158.08 181.83,156.9 183.9,155.8 C185.97,154.7 188.73,153.88 190.8,152.4 C192.87,150.92 194.47,148.85 196.3,146.9 C198.13,144.95 199.97,142.42 201.8,140.7 C203.63,138.98 205.77,137.5 207.3,136.6 C208.83,135.7 209.97,135.53 211,135.3 C212.03,135.07 212.45,134.98 213.5,135.2 C214.55,135.42 215.75,135.68 217.3,136.6 C218.85,137.52 220.97,138.98 222.8,140.7 C224.63,142.42 226.47,144.62 228.3,146.9 C230.13,149.18 232.08,152.3 233.8,154.4 C235.52,156.5 237,158.35 238.6,159.5 C240.2,160.65 241.68,161.3 243.4,161.3 C245.12,161.3 247.3,159.8 248.9,159.5 C250.5,159.2 251.63,158.97 253,159.5 C254.37,160.03 255.6,161.25 257.1,162.7 C258.6,164.15 260.57,166.23 262,168.2 C263.43,170.17 265.08,173.45 265.7,174.5" fill="none" stroke="#3d5b94" stroke-width="1.2"/>
<path d="M157,159.2 C157.82,160.13 160.4,163.07 161.9,164.8 C163.4,166.53 164.63,168.47 166,169.6 C167.37,170.73 168.5,171.48 170.1,171.6 C171.7,171.72 173.77,170.93 175.6,170.3 C177.43,169.67 179.27,168.53 181.1,167.8 C182.93,167.07 184.98,166.07 186.6,165.9 C188.22,165.73 189.18,166.07 190.8,166.8 C192.42,167.53 194.47,169.15 196.3,170.3 C198.13,171.45 200.2,173.02 201.8,173.7 C203.4,174.38 204.62,174.58 205.9,174.4 C207.18,174.22 208.3,173.4 209.5,172.6 C210.7,171.8 211.8,170.33 213.1,169.6 C214.4,168.87 215.92,168.08 217.3,168.2 C218.68,168.32 219.8,169.03 221.4,170.3 C223,171.57 225.07,174.25 226.9,175.8 C228.73,177.35 230.57,178.87 232.4,179.6 C234.23,180.33 236.07,180.5 237.9,180.2 C239.73,179.9 241.57,179.12 243.4,177.8 C245.23,176.48 247.3,173.78 248.9,172.3 C250.5,170.82 251.63,169.35 253,168.9 C254.37,168.45 255.6,168.92 257.1,169.6 C258.6,170.28 260.57,171.63 262,173 C263.43,174.37 265.08,177 265.7,177.8" fill="none" stroke="#a8193f" stroke-width="1.2"/>
</g>
<clipPath id="clip156_130"><rect x="156.9" y="130.5" width="108.8" height="53.8"/></clipPath>
<rect x="156.9" y="130.5" width="108.8" height="53.8" fill="none" stroke="#111" stroke-width="1.1"/>
<line x1="152.9" y1="139.4" x2="156.9" y2="139.4" stroke="#111" stroke-width="1"/>
<text x="150.8" y="141.7" font-size="6.6" text-anchor="end" fill="#222" class="b">2.0</text>
<line x1="152.9" y1="150.1" x2="156.9" y2="150.1" stroke="#111" stroke-width="1"/>
<text x="150.8" y="152.4" font-size="6.6" text-anchor="end" fill="#222" class="b">1.8</text>
<line x1="152.9" y1="160.9" x2="156.9" y2="160.9" stroke="#111" stroke-width="1"/>
<text x="150.8" y="163.2" font-size="6.6" text-anchor="end" fill="#222" class="b">1.6</text>
<line x1="152.9" y1="171.8" x2="156.9" y2="171.8" stroke="#111" stroke-width="1"/>
<text x="150.8" y="174.1" font-size="6.6" text-anchor="end" fill="#222" class="b">1.4</text>
<line x1="152.9" y1="182.5" x2="156.9" y2="182.5" stroke="#111" stroke-width="1"/>
<text x="150.8" y="184.8" font-size="6.6" text-anchor="end" fill="#222" class="b">1.2</text>
<line x1="175" y1="184.3" x2="175" y2="186.5" stroke="#111" stroke-width="1"/>
<text x="175" y="196.5" font-size="6.5" text-anchor="middle" fill="#222" class="b">−2000</text>
<line x1="210.5" y1="184.3" x2="210.5" y2="186.5" stroke="#111" stroke-width="1"/>
<text x="210.5" y="196.5" font-size="6.5" text-anchor="middle" fill="#222" class="b">0</text>
<line x1="246" y1="184.3" x2="246" y2="186.5" stroke="#111" stroke-width="1"/>
<text x="246" y="196.5" font-size="6.5" text-anchor="middle" fill="#222" class="b">2000</text>
<text x="211.3" y="208.9" font-size="9.8" text-anchor="middle" textLength="15.2" lengthAdjust="spacingAndGlyphs" fill="#222" class="b">CTCF</text>
<text x="159.3" y="138" font-size="5.35" fill="#222">Lost CTCF</text>
<text x="159.3" y="144.9" font-size="5.35" fill="#222"><tspan font-style="italic">P</tspan>-value = 0.04</text>
<line x1="240.7" y1="135.6" x2="245.3" y2="135.6" stroke="#a8193f" stroke-width="1.3"/>
<line x1="240.7" y1="141.5" x2="245.3" y2="141.5" stroke="#3d5b94" stroke-width="1.3"/>
<text x="248.1" y="137.5" font-size="5.8" fill="#222">AML</text>
<text x="260.3" y="134.3" font-size="3.2" fill="#222">sf</text>
<text x="248.1" y="143.4" font-size="5.8" fill="#222">NBM</text>
<g clip-path="url(#clip22_226)">
<path d="M22.5,266.3 C23.23,266.48 25.25,267.13 26.9,267.4 C28.55,267.67 30.57,268.08 32.4,267.9 C34.23,267.72 36.07,267.03 37.9,266.3 C39.73,265.57 41.57,264.23 43.4,263.5 C45.23,262.77 47.07,262.32 48.9,261.9 C50.73,261.48 52.8,261.65 54.4,261 C56,260.35 57.13,259.65 58.5,258 C59.87,256.35 61.22,253.62 62.6,251.1 C63.98,248.58 65.42,245.42 66.8,242.9 C68.18,240.38 69.53,237.92 70.9,236 C72.27,234.08 73.73,232.35 75,231.4 C76.27,230.45 77.58,230.5 78.5,230.3 C79.42,230.1 79.48,229.98 80.5,230.2 C81.52,230.42 83.22,230.75 84.6,231.6 C85.98,232.45 87.18,233.53 88.8,235.3 C90.42,237.07 92.47,239.68 94.3,242.2 C96.13,244.72 97.97,247.88 99.8,250.4 C101.63,252.92 103.47,255.53 105.3,257.3 C107.13,259.07 108.97,260.08 110.8,261 C112.63,261.92 114.47,262.2 116.3,262.8 C118.13,263.4 120.2,264.07 121.8,264.6 C123.4,265.13 124.5,265.47 125.9,266 C127.3,266.53 129.48,267.5 130.2,267.8" fill="none" stroke="#bdbdbd" stroke-opacity="0.75" stroke-width="2.4" stroke-linecap="round"/>
<path d="M22.5,275.6 C23.47,275.72 26.42,276.2 28.3,276.3 C30.18,276.4 31.75,276.45 33.8,276.2 C35.85,275.95 38.32,275.23 40.6,274.8 C42.88,274.37 45.2,273.92 47.5,273.6 C49.8,273.28 52.33,273.25 54.4,272.9 C56.47,272.55 58.07,272.27 59.9,271.5 C61.73,270.73 63.57,269.52 65.4,268.3 C67.23,267.08 69.3,265.43 70.9,264.2 C72.5,262.97 73.75,261.82 75,260.9 C76.25,259.98 77.25,259.18 78.4,258.7 C79.55,258.22 80.63,257.83 81.9,258 C83.17,258.17 84.63,258.78 86,259.7 C87.37,260.62 88.5,262.07 90.1,263.5 C91.7,264.93 93.53,266.92 95.6,268.3 C97.67,269.68 100.2,270.92 102.5,271.8 C104.8,272.68 107.1,273.1 109.4,273.6 C111.7,274.1 114.02,274.6 116.3,274.8 C118.58,275 120.78,274.92 123.1,274.8 C125.42,274.68 129.02,274.22 130.2,274.1" fill="none" stroke="#bdbdbd" stroke-opacity="0.75" stroke-width="1.6" stroke-linecap="round"/>
<path d="M22.5,266.3 C23.23,266.48 25.25,267.13 26.9,267.4 C28.55,267.67 30.57,268.08 32.4,267.9 C34.23,267.72 36.07,267.03 37.9,266.3 C39.73,265.57 41.57,264.23 43.4,263.5 C45.23,262.77 47.07,262.32 48.9,261.9 C50.73,261.48 52.8,261.65 54.4,261 C56,260.35 57.13,259.65 58.5,258 C59.87,256.35 61.22,253.62 62.6,251.1 C63.98,248.58 65.42,245.42 66.8,242.9 C68.18,240.38 69.53,237.92 70.9,236 C72.27,234.08 73.73,232.35 75,231.4 C76.27,230.45 77.58,230.5 78.5,230.3 C79.42,230.1 79.48,229.98 80.5,230.2 C81.52,230.42 83.22,230.75 84.6,231.6 C85.98,232.45 87.18,233.53 88.8,235.3 C90.42,237.07 92.47,239.68 94.3,242.2 C96.13,244.72 97.97,247.88 99.8,250.4 C101.63,252.92 103.47,255.53 105.3,257.3 C107.13,259.07 108.97,260.08 110.8,261 C112.63,261.92 114.47,262.2 116.3,262.8 C118.13,263.4 120.2,264.07 121.8,264.6 C123.4,265.13 124.5,265.47 125.9,266 C127.3,266.53 129.48,267.5 130.2,267.8" fill="none" stroke="#a8193f" stroke-width="1.2"/>
<path d="M22.5,275.6 C23.47,275.72 26.42,276.2 28.3,276.3 C30.18,276.4 31.75,276.45 33.8,276.2 C35.85,275.95 38.32,275.23 40.6,274.8 C42.88,274.37 45.2,273.92 47.5,273.6 C49.8,273.28 52.33,273.25 54.4,272.9 C56.47,272.55 58.07,272.27 59.9,271.5 C61.73,270.73 63.57,269.52 65.4,268.3 C67.23,267.08 69.3,265.43 70.9,264.2 C72.5,262.97 73.75,261.82 75,260.9 C76.25,259.98 77.25,259.18 78.4,258.7 C79.55,258.22 80.63,257.83 81.9,258 C83.17,258.17 84.63,258.78 86,259.7 C87.37,260.62 88.5,262.07 90.1,263.5 C91.7,264.93 93.53,266.92 95.6,268.3 C97.67,269.68 100.2,270.92 102.5,271.8 C104.8,272.68 107.1,273.1 109.4,273.6 C111.7,274.1 114.02,274.6 116.3,274.8 C118.58,275 120.78,274.92 123.1,274.8 C125.42,274.68 129.02,274.22 130.2,274.1" fill="none" stroke="#3d5b94" stroke-width="1.2"/>
</g>
<clipPath id="clip22_226"><rect x="22.6" y="226.5" width="107.6" height="52.9"/></clipPath>
<rect x="22.6" y="226.5" width="107.6" height="52.9" fill="none" stroke="#111" stroke-width="1.1"/>
<line x1="18.6" y1="227.3" x2="22.6" y2="227.3" stroke="#111" stroke-width="1"/>
<text x="16.5" y="229.6" font-size="6.6" text-anchor="end" fill="#222" class="b">3.5</text>
<line x1="18.6" y1="239.2" x2="22.6" y2="239.2" stroke="#111" stroke-width="1"/>
<text x="16.5" y="241.5" font-size="6.6" text-anchor="end" fill="#222" class="b">3.0</text>
<line x1="18.6" y1="251.3" x2="22.6" y2="251.3" stroke="#111" stroke-width="1"/>
<text x="16.5" y="253.6" font-size="6.6" text-anchor="end" fill="#222" class="b">2.5</text>
<line x1="18.6" y1="263.2" x2="22.6" y2="263.2" stroke="#111" stroke-width="1"/>
<text x="16.5" y="265.5" font-size="6.6" text-anchor="end" fill="#222" class="b">2.0</text>
<line x1="18.6" y1="275.5" x2="22.6" y2="275.5" stroke="#111" stroke-width="1"/>
<text x="16.5" y="277.8" font-size="6.6" text-anchor="end" fill="#222" class="b">1.5</text>
<line x1="41" y1="279.4" x2="41" y2="281.6" stroke="#111" stroke-width="1"/>
<text x="41" y="291.6" font-size="6.5" text-anchor="middle" fill="#222" class="b">−2000</text>
<line x1="76.3" y1="279.4" x2="76.3" y2="281.6" stroke="#111" stroke-width="1"/>
<text x="76.3" y="291.6" font-size="6.5" text-anchor="middle" fill="#222" class="b">0</text>
<line x1="112" y1="279.4" x2="112" y2="281.6" stroke="#111" stroke-width="1"/>
<text x="112" y="291.6" font-size="6.5" text-anchor="middle" fill="#222" class="b">2000</text>
<text x="76.4" y="304" font-size="9.8" text-anchor="middle" textLength="15.2" lengthAdjust="spacingAndGlyphs" fill="#222" class="b">CTCF</text>
<text x="25" y="233.4" font-size="5.35" fill="#222">Gain CTCF</text>
<text x="25" y="240.3" font-size="5.35" fill="#222"><tspan font-style="italic">P</tspan>-value = 0.001</text>
<line x1="102.9" y1="233.5" x2="107.5" y2="233.5" stroke="#a8193f" stroke-width="1.3"/>
<line x1="102.9" y1="239.4" x2="107.5" y2="239.4" stroke="#3d5b94" stroke-width="1.3"/>
<text x="110.3" y="235.4" font-size="5.8" fill="#222">AML</text>
<text x="122.5" y="232.2" font-size="3.2" fill="#222">sf</text>
<text x="110.3" y="241.3" font-size="5.8" fill="#222">NBM</text>
<text x="22.6" y="220.8" font-size="8.4" fill="#222">H3K4mel</text>
<g clip-path="url(#clip156_226)">
<path d="M156.75,259.28 L157.05,259.28 L157.43,259.28 L157.89,259.28 L158.41,259.28 L158.98,259.29 L159.59,259.29 L160.23,259.28 L160.87,259.27 L161.51,259.25 L162.13,259.25 L162.73,259.29 L163.29,259.3 L163.83,259.29 L164.34,259.27 L164.84,259.23 L165.33,259.19 L165.82,259.13 L166.29,259.06 L166.76,258.99 L167.22,258.91 L167.68,258.83 L168.13,258.75 L168.58,258.66 L169.04,258.58 L169.51,258.49 L169.98,258.4 L170.45,258.3 L170.92,258.19 L171.39,258.09 L171.85,257.98 L172.32,257.86 L172.79,257.75 L173.25,257.63 L173.72,257.5 L174.18,257.38 L174.65,257.25 L175.13,257.12 L175.61,256.97 L176.08,256.81 L176.55,256.66 L177.01,256.5 L177.47,256.34 L177.92,256.19 L178.36,256.05 L178.8,255.91 L179.23,255.78 L179.66,255.67 L180.07,255.57 L180.48,255.49 L180.9,255.43 L181.32,255.37 L181.76,255.33 L182.2,255.29 L182.65,255.25 L183.12,255.21 L183.59,255.17 L184.08,255.12 L184.57,255.05 L185.08,254.97 L185.58,254.87 L186.06,254.76 L186.54,254.65 L187.03,254.52 L187.52,254.4 L188.02,254.26 L188.52,254.11 L189.02,253.95 L189.51,253.78 L190,253.6 L190.48,253.4 L190.96,253.18 L191.42,252.94 L191.85,252.7 L192.26,252.45 L192.66,252.18 L193.05,251.91 L193.42,251.62 L193.78,251.32 L194.13,251.01 L194.48,250.69 L194.82,250.36 L195.16,250.01 L195.51,249.65 L195.86,249.27 L196.23,248.86 L196.59,248.42 L196.95,247.97 L197.31,247.5 L197.66,247.02 L198.01,246.54 L198.35,246.05 L198.7,245.56 L199.04,245.07 L199.38,244.6 L199.71,244.13 L200.05,243.67 L200.39,243.2 L200.74,242.73 L201.08,242.25 L201.42,241.77 L201.76,241.29 L202.1,240.82 L202.43,240.36 L202.77,239.91 L203.1,239.47 L203.43,239.04 L203.76,238.64 L204.09,238.25 L204.42,237.87 L204.75,237.5 L205.09,237.13 L205.42,236.78 L205.76,236.44 L206.1,236.11 L206.43,235.78 L206.77,235.47 L207.1,235.17 L207.44,234.87 L207.78,234.59 L208.11,234.31 L208.45,234.05 L208.8,233.78 L209.15,233.53 L209.5,233.28 L209.84,233.04 L210.19,232.81 L210.53,232.6 L210.86,232.41 L211.18,232.23 L211.5,232.07 L211.79,231.93 L212.08,231.81 L212.35,231.71 L212.61,231.63 L212.86,231.56 L213.11,231.51 L213.34,231.47 L213.58,231.44 L213.81,231.42 L214.05,231.41 L214.28,231.42 L214.52,231.43 L214.77,231.46 L215.01,231.49 L215.26,231.53 L215.49,231.57 L215.71,231.63 L215.93,231.69 L216.15,231.76 L216.37,231.85 L216.6,231.94 L216.83,232.06 L217.07,232.18 L217.33,232.33 L217.59,232.49 L217.88,232.68 L218.17,232.88 L218.47,233.1 L218.78,233.32 L219.08,233.56 L219.4,233.82 L219.72,234.09 L220.05,234.38 L220.38,234.69 L220.73,235.02 L221.09,235.38 L221.46,235.77 L221.84,236.18 L222.23,236.62 L222.65,237.1 L223.08,237.62 L223.52,238.17 L223.98,238.75 L224.44,239.35 L224.91,239.96 L225.39,240.57 L225.87,241.19 L226.34,241.81 L226.81,242.42 L227.28,243.01 L227.73,243.58 L228.19,244.17 L228.64,244.76 L229.1,245.36 L229.56,245.97 L230.02,246.57 L230.48,247.17 L230.95,247.77 L231.42,248.35 L231.89,248.91 L232.37,249.46 L232.85,249.99 L233.32,250.48 L233.8,250.97 L234.27,251.43 L234.74,251.88 L235.22,252.32 L235.7,252.74 L236.17,253.15 L236.65,253.54 L237.13,253.92 L237.61,254.29 L238.09,254.64 L238.57,254.98 L239.06,255.3 L239.56,255.6 L240.05,255.88 L240.54,256.14 L241.03,256.38 L241.51,256.6 L241.98,256.81 L242.45,257.02 L242.92,257.21 L243.38,257.41 L243.83,257.6 L244.29,257.79 L244.76,258 L245.23,258.19 L245.71,258.37 L246.18,258.55 L246.64,258.73 L247.11,258.9 L247.57,259.06 L248.02,259.23 L248.48,259.39 L248.93,259.56 L249.37,259.73 L249.82,259.91 L250.28,260.09 L250.76,260.28 L251.23,260.47 L251.71,260.65 L252.18,260.84 L252.65,261.03 L253.11,261.22 L253.56,261.41 L254,261.6 L254.43,261.79 L254.81,262.02 L255.18,262.24 L255.52,262.47 L255.84,262.69 L256.15,262.91 L256.45,263.13 L256.74,263.35 L257.02,263.58 L257.31,263.81 L257.61,264.04 L257.91,264.29 L258.22,264.54 L258.55,264.8 L258.89,265.07 L259.25,265.35 L259.64,265.65 L260.04,265.98 L260.46,266.32 L260.89,266.66 L261.31,267.01 L261.72,267.34 L262.11,267.65 L262.46,267.94 L262.78,268.2 L263.06,268.43 L263.27,268.6 L265.93,264.6 L265.68,264.47 L265.38,264.31 L265.02,264.11 L264.61,263.9 L264.17,263.66 L263.7,263.41 L263.22,263.15 L262.73,262.89 L262.24,262.63 L261.77,262.38 L261.32,262.15 L260.91,261.93 L260.53,261.74 L260.17,261.56 L259.82,261.37 L259.47,261.19 L259.13,261 L258.78,260.82 L258.42,260.64 L258.05,260.46 L257.67,260.28 L257.27,260.1 L256.86,259.93 L256.42,259.76 L255.97,259.59 L255.5,259.42 L255.05,259.22 L254.58,259.01 L254.1,258.82 L253.63,258.62 L253.14,258.43 L252.66,258.24 L252.18,258.05 L251.71,257.86 L251.24,257.68 L250.78,257.49 L250.31,257.31 L249.84,257.13 L249.37,256.96 L248.91,256.79 L248.45,256.62 L247.99,256.45 L247.54,256.29 L247.09,256.12 L246.64,255.95 L246.2,255.78 L245.76,255.6 L245.31,255.41 L244.85,255.21 L244.39,255.01 L243.93,254.82 L243.48,254.63 L243.03,254.43 L242.59,254.24 L242.16,254.03 L241.72,253.82 L241.3,253.6 L240.87,253.36 L240.45,253.1 L240.03,252.82 L239.6,252.52 L239.16,252.2 L238.72,251.87 L238.28,251.52 L237.85,251.16 L237.4,250.78 L236.96,250.39 L236.52,249.98 L236.08,249.56 L235.64,249.13 L235.19,248.68 L234.75,248.21 L234.31,247.73 L233.87,247.23 L233.43,246.7 L232.98,246.14 L232.53,245.57 L232.08,244.99 L231.63,244.39 L231.17,243.79 L230.71,243.19 L230.25,242.58 L229.78,241.98 L229.32,241.39 L228.86,240.81 L228.4,240.22 L227.92,239.61 L227.45,238.99 L226.97,238.37 L226.5,237.75 L226.02,237.15 L225.55,236.55 L225.09,235.98 L224.64,235.43 L224.19,234.91 L223.76,234.42 L223.35,233.98 L222.94,233.56 L222.55,233.17 L222.17,232.8 L221.79,232.45 L221.42,232.12 L221.06,231.82 L220.7,231.53 L220.35,231.25 L220,231 L219.66,230.75 L219.32,230.52 L218.99,230.3 L218.65,230.1 L218.33,229.91 L218,229.74 L217.68,229.58 L217.35,229.44 L217.03,229.32 L216.71,229.21 L216.38,229.11 L216.05,229.03 L215.72,228.97 L215.39,228.91 L215.05,228.87 L214.72,228.84 L214.38,228.82 L214.03,228.81 L213.69,228.82 L213.33,228.85 L212.97,228.89 L212.61,228.95 L212.25,229.03 L211.88,229.13 L211.5,229.25 L211.12,229.39 L210.74,229.55 L210.35,229.73 L209.96,229.93 L209.57,230.15 L209.18,230.38 L208.79,230.62 L208.4,230.88 L208.01,231.15 L207.62,231.42 L207.24,231.7 L206.86,231.99 L206.49,232.29 L206.12,232.59 L205.75,232.9 L205.38,233.22 L205.01,233.55 L204.64,233.89 L204.28,234.24 L203.92,234.61 L203.55,234.97 L203.19,235.35 L202.83,235.74 L202.47,236.14 L202.11,236.55 L201.75,236.98 L201.39,237.43 L201.04,237.89 L200.68,238.35 L200.34,238.83 L199.99,239.3 L199.65,239.78 L199.3,240.26 L198.97,240.74 L198.63,241.21 L198.29,241.67 L197.95,242.13 L197.61,242.6 L197.26,243.09 L196.91,243.58 L196.57,244.06 L196.23,244.55 L195.89,245.03 L195.56,245.49 L195.22,245.94 L194.9,246.38 L194.57,246.79 L194.26,247.17 L193.94,247.53 L193.62,247.87 L193.3,248.2 L192.99,248.51 L192.69,248.8 L192.39,249.08 L192.1,249.34 L191.8,249.59 L191.49,249.82 L191.19,250.04 L190.86,250.25 L190.53,250.46 L190.18,250.66 L189.82,250.84 L189.44,251.01 L189.04,251.18 L188.63,251.34 L188.2,251.49 L187.76,251.63 L187.31,251.76 L186.85,251.89 L186.39,252 L185.93,252.12 L185.47,252.23 L185.02,252.33 L184.61,252.42 L184.19,252.48 L183.77,252.54 L183.34,252.58 L182.9,252.62 L182.45,252.66 L181.98,252.7 L181.51,252.74 L181.03,252.79 L180.53,252.85 L180.03,252.93 L179.53,253.03 L179.03,253.15 L178.53,253.28 L178.05,253.42 L177.57,253.57 L177.1,253.72 L176.63,253.88 L176.17,254.04 L175.72,254.19 L175.27,254.35 L174.83,254.49 L174.39,254.62 L173.95,254.75 L173.5,254.87 L173.05,254.99 L172.6,255.11 L172.15,255.23 L171.7,255.34 L171.25,255.45 L170.8,255.55 L170.35,255.66 L169.9,255.76 L169.46,255.85 L169.01,255.94 L168.56,256.02 L168.11,256.11 L167.66,256.19 L167.21,256.27 L166.77,256.35 L166.34,256.42 L165.91,256.49 L165.48,256.55 L165.05,256.6 L164.62,256.64 L164.19,256.67 L163.75,256.69 L163.31,256.7 L162.84,256.69 L162.32,256.66 L161.76,256.56 L161.18,256.42 L160.6,256.26 L160.02,256.1 L159.45,255.94 L158.92,255.78 L158.42,255.64 L157.96,255.51 L157.56,255.4 L157.25,255.32 Z" fill="#c4c4c4" fill-opacity="0.8" stroke="#c4c4c4" stroke-opacity="0.5" stroke-width="0.6"/>
<path d="M157,261.9 C158.05,262.17 161.33,263 163.3,263.5 C165.27,264 166.75,264.5 168.8,264.9 C170.85,265.3 173.32,265.67 175.6,265.9 C177.88,266.13 180.2,266.23 182.5,266.3 C184.8,266.37 187.1,266.35 189.4,266.3 C191.7,266.25 194.47,266.23 196.3,266 C198.13,265.77 199.03,265.58 200.4,264.9 C201.77,264.22 203.13,263.05 204.5,261.9 C205.87,260.75 207.28,258.95 208.6,258 C209.92,257.05 211.18,256.65 212.4,256.2 C213.62,255.75 214.75,255.27 215.9,255.3 C217.05,255.33 217.93,255.45 219.3,256.4 C220.67,257.35 222.38,259.4 224.1,261 C225.82,262.6 227.77,264.72 229.6,266 C231.43,267.28 233.27,268.08 235.1,268.7 C236.93,269.32 238.77,269.53 240.6,269.7 C242.43,269.87 244.27,269.58 246.1,269.7 C247.93,269.82 249.77,270.02 251.6,270.4 C253.43,270.78 255.48,271.43 257.1,272 C258.72,272.57 260.05,273.23 261.3,273.8 C262.55,274.37 264.05,275.13 264.6,275.4" fill="none" stroke="#bdbdbd" stroke-opacity="0.75" stroke-width="1.8" stroke-linecap="round"/>
<path d="M157,257.3 C158.05,257.42 161.33,258 163.3,258 C165.27,258 166.97,257.63 168.8,257.3 C170.63,256.97 172.47,256.5 174.3,256 C176.13,255.5 177.97,254.7 179.8,254.3 C181.63,253.9 183.47,254.02 185.3,253.6 C187.13,253.18 189.2,252.67 190.8,251.8 C192.4,250.93 193.53,249.88 194.9,248.4 C196.27,246.92 197.63,244.73 199,242.9 C200.37,241.07 201.72,239 203.1,237.4 C204.48,235.8 205.88,234.43 207.3,233.3 C208.72,232.17 210.28,231.12 211.6,230.6 C212.92,230.08 214.03,230.03 215.2,230.2 C216.37,230.37 217.33,230.75 218.6,231.6 C219.87,232.45 221.18,233.53 222.8,235.3 C224.42,237.07 226.47,239.9 228.3,242.2 C230.13,244.5 231.97,247.15 233.8,249.1 C235.63,251.05 237.47,252.65 239.3,253.9 C241.13,255.15 242.97,255.8 244.8,256.6 C246.63,257.4 248.47,257.97 250.3,258.7 C252.13,259.43 254.2,260.2 255.8,261 C257.4,261.8 258.43,262.57 259.9,263.5 C261.37,264.43 263.82,266.08 264.6,266.6" fill="none" stroke="#3d5b94" stroke-width="1.2"/>
<path d="M157,261.9 C158.05,262.17 161.33,263 163.3,263.5 C165.27,264 166.75,264.5 168.8,264.9 C170.85,265.3 173.32,265.67 175.6,265.9 C177.88,266.13 180.2,266.23 182.5,266.3 C184.8,266.37 187.1,266.35 189.4,266.3 C191.7,266.25 194.47,266.23 196.3,266 C198.13,265.77 199.03,265.58 200.4,264.9 C201.77,264.22 203.13,263.05 204.5,261.9 C205.87,260.75 207.28,258.95 208.6,258 C209.92,257.05 211.18,256.65 212.4,256.2 C213.62,255.75 214.75,255.27 215.9,255.3 C217.05,255.33 217.93,255.45 219.3,256.4 C220.67,257.35 222.38,259.4 224.1,261 C225.82,262.6 227.77,264.72 229.6,266 C231.43,267.28 233.27,268.08 235.1,268.7 C236.93,269.32 238.77,269.53 240.6,269.7 C242.43,269.87 244.27,269.58 246.1,269.7 C247.93,269.82 249.77,270.02 251.6,270.4 C253.43,270.78 255.48,271.43 257.1,272 C258.72,272.57 260.05,273.23 261.3,273.8 C262.55,274.37 264.05,275.13 264.6,275.4" fill="none" stroke="#a8193f" stroke-width="1.2"/>
</g>
<clipPath id="clip156_226"><rect x="156.9" y="226.5" width="107.7" height="52.9"/></clipPath>
<rect x="156.9" y="226.5" width="107.7" height="52.9" fill="none" stroke="#111" stroke-width="1.1"/>
<line x1="152.9" y1="237.3" x2="156.9" y2="237.3" stroke="#111" stroke-width="1"/>
<text x="150.8" y="239.6" font-size="6.6" text-anchor="end" fill="#222" class="b">2.5</text>
<line x1="152.9" y1="252.7" x2="156.9" y2="252.7" stroke="#111" stroke-width="1"/>
<text x="150.8" y="255" font-size="6.6" text-anchor="end" fill="#222" class="b">2.0</text>
<line x1="152.9" y1="268.3" x2="156.9" y2="268.3" stroke="#111" stroke-width="1"/>
<text x="150.8" y="270.6" font-size="6.6" text-anchor="end" fill="#222" class="b">1.5</text>
<line x1="175" y1="279.4" x2="175" y2="281.6" stroke="#111" stroke-width="1"/>
<text x="175" y="291.6" font-size="6.5" text-anchor="middle" fill="#222" class="b">−2000</text>
<line x1="210.5" y1="279.4" x2="210.5" y2="281.6" stroke="#111" stroke-width="1"/>
<text x="210.5" y="291.6" font-size="6.5" text-anchor="middle" fill="#222" class="b">0</text>
<line x1="246" y1="279.4" x2="246" y2="281.6" stroke="#111" stroke-width="1"/>
<text x="246" y="291.6" font-size="6.5" text-anchor="middle" fill="#222" class="b">2000</text>
<text x="210.75" y="304" font-size="9.8" text-anchor="middle" textLength="15.2" lengthAdjust="spacingAndGlyphs" fill="#222" class="b">CTCF</text>
<text x="159.3" y="234" font-size="5.35" fill="#222">Lost CTCF</text>
<text x="159.3" y="240.9" font-size="5.35" fill="#222"><tspan font-style="italic">P</tspan>-value = 0.1</text>
<line x1="239.3" y1="233.5" x2="243.9" y2="233.5" stroke="#a8193f" stroke-width="1.3"/>
<line x1="239.3" y1="239.4" x2="243.9" y2="239.4" stroke="#3d5b94" stroke-width="1.3"/>
<text x="246.7" y="235.4" font-size="5.8" fill="#222">AML</text>
<text x="258.9" y="232.2" font-size="3.2" fill="#222">sf</text>
<text x="246.7" y="241.3" font-size="5.8" fill="#222">NBM</text>
<g clip-path="url(#clip22_321)">
<path d="M22.5,367.9 C23.47,368.05 26.2,368.58 28.3,368.8 C30.4,369.02 32.82,369.27 35.1,369.2 C37.38,369.13 39.7,368.8 42,368.4 C44.3,368 46.6,367.42 48.9,366.8 C51.2,366.18 53.73,365.35 55.8,364.7 C57.87,364.05 59.7,363.7 61.3,362.9 C62.9,362.1 64.15,361.32 65.4,359.9 C66.65,358.48 67.77,356.47 68.8,354.4 C69.83,352.33 70.68,350.02 71.6,347.5 C72.52,344.98 73.5,341.7 74.3,339.3 C75.1,336.9 75.78,334.75 76.4,333.1 C77.02,331.45 77.47,330.48 78,329.4 C78.53,328.32 79.07,327.37 79.6,326.6 C80.13,325.83 80.48,324.75 81.2,324.8 C81.92,324.85 82.98,325.4 83.9,326.9 C84.82,328.4 85.78,331.05 86.7,333.8 C87.62,336.55 88.48,340.2 89.4,343.4 C90.32,346.6 91.17,350.02 92.2,353 C93.23,355.98 94.33,358.88 95.6,361.3 C96.87,363.72 98.42,366.32 99.8,367.5 C101.18,368.68 102.53,368.33 103.9,368.4 C105.27,368.47 106.4,367.72 108,367.9 C109.6,368.08 111.67,368.95 113.5,369.5 C115.33,370.05 117.17,371.08 119,371.2 C120.83,371.32 122.6,370.82 124.5,370.2 C126.4,369.58 129.42,367.95 130.4,367.5" fill="none" stroke="#bdbdbd" stroke-opacity="0.75" stroke-width="2.2" stroke-linecap="round"/>
<path d="M22.5,365.7 C23.47,365.82 26.2,366.33 28.3,366.4 C30.4,366.47 32.82,366.27 35.1,366.1 C37.38,365.93 39.7,365.63 42,365.4 C44.3,365.17 46.6,364.98 48.9,364.7 C51.2,364.42 53.73,364.08 55.8,363.7 C57.87,363.32 59.7,363.27 61.3,362.4 C62.9,361.53 64.15,360.07 65.4,358.5 C66.65,356.93 67.77,355.07 68.8,353 C69.83,350.93 70.68,348.62 71.6,346.1 C72.52,343.58 73.5,340.3 74.3,337.9 C75.1,335.5 75.78,333.25 76.4,331.7 C77.02,330.15 77.47,329.42 78,328.6 C78.53,327.78 79.07,327.27 79.6,326.8 C80.13,326.33 80.48,325.67 81.2,325.8 C81.92,325.93 82.98,326.27 83.9,327.6 C84.82,328.93 85.67,330.93 86.7,333.8 C87.73,336.67 88.95,341.13 90.1,344.8 C91.25,348.47 92.45,352.83 93.6,355.8 C94.75,358.77 95.75,360.95 97,362.6 C98.25,364.25 99.27,364.88 101.1,365.7 C102.93,366.52 105.7,366.98 108,367.5 C110.3,368.02 112.6,368.7 114.9,368.8 C117.2,368.9 119.22,368.62 121.8,368.1 C124.38,367.58 128.97,366.1 130.4,365.7" fill="none" stroke="#bdbdbd" stroke-opacity="0.75" stroke-width="1.6" stroke-linecap="round"/>
<path d="M22.5,367.9 C23.47,368.05 26.2,368.58 28.3,368.8 C30.4,369.02 32.82,369.27 35.1,369.2 C37.38,369.13 39.7,368.8 42,368.4 C44.3,368 46.6,367.42 48.9,366.8 C51.2,366.18 53.73,365.35 55.8,364.7 C57.87,364.05 59.7,363.7 61.3,362.9 C62.9,362.1 64.15,361.32 65.4,359.9 C66.65,358.48 67.77,356.47 68.8,354.4 C69.83,352.33 70.68,350.02 71.6,347.5 C72.52,344.98 73.5,341.7 74.3,339.3 C75.1,336.9 75.78,334.75 76.4,333.1 C77.02,331.45 77.47,330.48 78,329.4 C78.53,328.32 79.07,327.37 79.6,326.6 C80.13,325.83 80.48,324.75 81.2,324.8 C81.92,324.85 82.98,325.4 83.9,326.9 C84.82,328.4 85.78,331.05 86.7,333.8 C87.62,336.55 88.48,340.2 89.4,343.4 C90.32,346.6 91.17,350.02 92.2,353 C93.23,355.98 94.33,358.88 95.6,361.3 C96.87,363.72 98.42,366.32 99.8,367.5 C101.18,368.68 102.53,368.33 103.9,368.4 C105.27,368.47 106.4,367.72 108,367.9 C109.6,368.08 111.67,368.95 113.5,369.5 C115.33,370.05 117.17,371.08 119,371.2 C120.83,371.32 122.6,370.82 124.5,370.2 C126.4,369.58 129.42,367.95 130.4,367.5" fill="none" stroke="#a8193f" stroke-width="1.2"/>
<path d="M22.5,365.7 C23.47,365.82 26.2,366.33 28.3,366.4 C30.4,366.47 32.82,366.27 35.1,366.1 C37.38,365.93 39.7,365.63 42,365.4 C44.3,365.17 46.6,364.98 48.9,364.7 C51.2,364.42 53.73,364.08 55.8,363.7 C57.87,363.32 59.7,363.27 61.3,362.4 C62.9,361.53 64.15,360.07 65.4,358.5 C66.65,356.93 67.77,355.07 68.8,353 C69.83,350.93 70.68,348.62 71.6,346.1 C72.52,343.58 73.5,340.3 74.3,337.9 C75.1,335.5 75.78,333.25 76.4,331.7 C77.02,330.15 77.47,329.42 78,328.6 C78.53,327.78 79.07,327.27 79.6,326.8 C80.13,326.33 80.48,325.67 81.2,325.8 C81.92,325.93 82.98,326.27 83.9,327.6 C84.82,328.93 85.67,330.93 86.7,333.8 C87.73,336.67 88.95,341.13 90.1,344.8 C91.25,348.47 92.45,352.83 93.6,355.8 C94.75,358.77 95.75,360.95 97,362.6 C98.25,364.25 99.27,364.88 101.1,365.7 C102.93,366.52 105.7,366.98 108,367.5 C110.3,368.02 112.6,368.7 114.9,368.8 C117.2,368.9 119.22,368.62 121.8,368.1 C124.38,367.58 128.97,366.1 130.4,365.7" fill="none" stroke="#3d5b94" stroke-width="1.2"/>
</g>
<clipPath id="clip22_321"><rect x="22.6" y="321.5" width="107.8" height="53.2"/></clipPath>
<rect x="22.6" y="321.5" width="107.8" height="53.2" fill="none" stroke="#111" stroke-width="1.1"/>
<line x1="18.6" y1="321" x2="22.6" y2="321" stroke="#111" stroke-width="1"/>
<text x="16.5" y="323.3" font-size="6.6" text-anchor="end" fill="#222" class="b">1.7</text>
<line x1="18.6" y1="334.2" x2="22.6" y2="334.2" stroke="#111" stroke-width="1"/>
<text x="16.5" y="336.5" font-size="6.6" text-anchor="end" fill="#222" class="b">1.5</text>
<line x1="18.6" y1="347.1" x2="22.6" y2="347.1" stroke="#111" stroke-width="1"/>
<text x="16.5" y="349.4" font-size="6.6" text-anchor="end" fill="#222" class="b">1.3</text>
<line x1="18.6" y1="359.8" x2="22.6" y2="359.8" stroke="#111" stroke-width="1"/>
<text x="16.5" y="362.1" font-size="6.6" text-anchor="end" fill="#222" class="b">1.1</text>
<line x1="18.6" y1="372.2" x2="22.6" y2="372.2" stroke="#111" stroke-width="1"/>
<text x="16.5" y="374.5" font-size="6.6" text-anchor="end" fill="#222" class="b">0.9</text>
<line x1="41" y1="374.7" x2="41" y2="376.9" stroke="#111" stroke-width="1"/>
<text x="41" y="386.9" font-size="6.5" text-anchor="middle" fill="#222" class="b">−2000</text>
<line x1="76.3" y1="374.7" x2="76.3" y2="376.9" stroke="#111" stroke-width="1"/>
<text x="76.3" y="386.9" font-size="6.5" text-anchor="middle" fill="#222" class="b">0</text>
<line x1="112" y1="374.7" x2="112" y2="376.9" stroke="#111" stroke-width="1"/>
<text x="112" y="386.9" font-size="6.5" text-anchor="middle" fill="#222" class="b">2000</text>
<text x="76.5" y="399.3" font-size="9.8" text-anchor="middle" textLength="15.2" lengthAdjust="spacingAndGlyphs" fill="#222" class="b">CTCF</text>
<text x="25" y="329" font-size="5.35" fill="#222">Gain CTCF</text>
<text x="25" y="335.9" font-size="5.35" fill="#222"><tspan font-style="italic">P</tspan>-value = 0.48</text>
<line x1="105" y1="327.5" x2="109.6" y2="327.5" stroke="#a8193f" stroke-width="1.3"/>
<line x1="105" y1="333.4" x2="109.6" y2="333.4" stroke="#3d5b94" stroke-width="1.3"/>
<text x="112.4" y="329.4" font-size="5.8" fill="#222">AML</text>
<text x="124.6" y="326.2" font-size="3.2" fill="#222">sf</text>
<text x="112.4" y="335.3" font-size="5.8" fill="#222">NBM</text>
<text x="22.6" y="316" font-size="8.4" fill="#222">H2AZ</text>
<g clip-path="url(#clip156_321)">
<path d="M154.55,357.16 L154.74,357.31 L154.98,357.51 L155.27,357.76 L155.6,358.05 L155.96,358.36 L156.35,358.69 L156.76,359.04 L157.19,359.4 L157.62,359.75 L158.05,360.1 L158.48,360.43 L158.9,360.74 L159.28,361.01 L159.67,361.28 L160.08,361.57 L160.5,361.86 L160.89,362.19 L161.26,362.55 L161.64,362.91 L162.03,363.26 L162.43,363.59 L162.85,363.91 L163.28,364.21 L163.73,364.48 L164.16,364.7 L164.58,364.89 L165.02,365.07 L165.45,365.22 L165.9,365.34 L166.35,365.45 L166.81,365.52 L167.27,365.57 L167.74,365.59 L168.2,365.58 L168.67,365.54 L169.14,365.47 L169.6,365.36 L170.05,365.23 L170.49,365.07 L170.92,364.88 L171.33,364.67 L171.74,364.44 L172.14,364.18 L172.53,363.91 L172.92,363.62 L173.31,363.31 L173.7,362.99 L174.11,362.63 L174.55,362.22 L174.99,361.76 L175.43,361.27 L175.86,360.76 L176.28,360.24 L176.7,359.72 L177.11,359.21 L177.52,358.71 L177.91,358.24 L178.28,357.8 L178.63,357.42 L178.97,357.07 L179.34,356.72 L179.7,356.35 L180.05,356 L180.37,355.67 L180.68,355.37 L180.97,355.12 L181.23,354.9 L181.46,354.73 L181.65,354.61 L181.8,354.54 L181.89,354.5 L181.95,354.49 L181.98,354.49 L182.05,354.51 L182.17,354.55 L182.35,354.63 L182.57,354.76 L182.83,354.93 L183.12,355.14 L183.44,355.39 L183.78,355.66 L184.15,355.95 L184.54,356.25 L184.92,356.54 L185.26,356.8 L185.61,357.09 L185.98,357.41 L186.37,357.76 L186.77,358.13 L187.18,358.51 L187.6,358.9 L188.03,359.28 L188.46,359.66 L188.9,360.03 L189.35,360.38 L189.78,360.69 L190.18,360.95 L190.55,361.19 L190.93,361.43 L191.31,361.66 L191.7,361.88 L192.1,362.09 L192.52,362.28 L192.96,362.45 L193.41,362.59 L193.89,362.7 L194.39,362.78 L194.87,362.8 L195.31,362.79 L195.73,362.77 L196.17,362.72 L196.63,362.64 L197.1,362.53 L197.58,362.37 L198.06,362.17 L198.54,361.92 L199.02,361.61 L199.48,361.25 L199.93,360.84 L200.36,360.38 L200.77,359.87 L201.17,359.33 L201.55,358.74 L201.92,358.13 L202.28,357.48 L202.64,356.8 L203,356.1 L203.35,355.38 L203.7,354.64 L204.05,353.88 L204.4,353.11 L204.75,352.33 L205.11,351.49 L205.48,350.58 L205.86,349.63 L206.24,348.64 L206.62,347.64 L206.99,346.63 L207.36,345.63 L207.71,344.65 L208.06,343.7 L208.38,342.82 L208.69,341.99 L208.98,341.25 L209.24,340.58 L209.49,339.96 L209.72,339.38 L209.94,338.84 L210.15,338.34 L210.35,337.86 L210.54,337.4 L210.73,336.96 L210.91,336.52 L211.09,336.08 L211.28,335.64 L211.47,335.17 L211.66,334.69 L211.84,334.21 L212,333.75 L212.15,333.31 L212.3,332.89 L212.44,332.49 L212.58,332.11 L212.71,331.76 L212.85,331.43 L213,331.13 L213.15,330.84 L213.32,330.56 L213.53,330.24 L213.77,329.88 L214.02,329.53 L214.27,329.19 L214.52,328.86 L214.76,328.57 L214.99,328.33 L215.19,328.14 L215.34,328.02 L215.42,327.97 L215.38,327.98 L215.25,328 L215.17,328 L215.17,328 L215.21,328.02 L215.3,328.08 L215.44,328.18 L215.61,328.34 L215.8,328.56 L216.02,328.83 L216.25,329.15 L216.49,329.53 L216.75,329.96 L217,330.43 L217.26,330.95 L217.53,331.54 L217.8,332.19 L218.08,332.91 L218.36,333.68 L218.65,334.48 L218.94,335.33 L219.23,336.2 L219.52,337.09 L219.81,338 L220.09,338.92 L220.38,339.83 L220.66,340.75 L220.94,341.72 L221.22,342.73 L221.5,343.77 L221.78,344.83 L222.07,345.91 L222.35,346.99 L222.63,348.06 L222.92,349.12 L223.2,350.16 L223.49,351.16 L223.78,352.13 L224.07,353.06 L224.36,353.98 L224.65,354.91 L224.94,355.83 L225.24,356.73 L225.53,357.61 L225.83,358.46 L226.12,359.28 L226.41,360.06 L226.7,360.79 L226.99,361.46 L227.28,362.08 L227.56,362.64 L227.84,363.14 L228.12,363.59 L228.41,364.01 L228.71,364.39 L229.02,364.74 L229.36,365.05 L229.71,365.32 L230.08,365.55 L230.44,365.74 L230.8,365.89 L231.19,366.03 L231.65,366.14 L232.15,366.19 L232.64,366.18 L233.1,366.12 L233.53,366.03 L233.94,365.9 L234.34,365.75 L234.71,365.59 L235.07,365.41 L235.41,365.22 L235.75,365.02 L236.1,364.8 L236.48,364.53 L236.86,364.21 L237.22,363.89 L237.55,363.55 L237.87,363.22 L238.18,362.88 L238.47,362.56 L238.76,362.25 L239.03,361.96 L239.28,361.71 L239.51,361.49 L239.75,361.28 L240.03,361.06 L240.32,360.81 L240.6,360.58 L240.85,360.37 L241.09,360.18 L241.31,360.01 L241.51,359.88 L241.69,359.77 L241.84,359.69 L241.97,359.64 L242.08,359.61 L242.17,359.59 L242.3,359.59 L242.45,359.6 L242.64,359.63 L242.86,359.68 L243.1,359.75 L243.36,359.84 L243.64,359.95 L243.94,360.09 L244.24,360.23 L244.55,360.4 L244.87,360.57 L245.18,360.74 L245.44,360.91 L245.69,361.09 L245.97,361.31 L246.26,361.56 L246.57,361.84 L246.9,362.14 L247.24,362.46 L247.61,362.79 L248,363.12 L248.41,363.46 L248.86,363.8 L249.32,364.11 L249.78,364.4 L250.25,364.68 L250.74,364.95 L251.24,365.23 L251.74,365.49 L252.25,365.75 L252.75,366 L253.25,366.24 L253.74,366.47 L254.22,366.69 L254.68,366.88 L255.12,367.07 L255.53,367.23 L255.92,367.38 L256.31,367.52 L256.68,367.66 L257.06,367.78 L257.43,367.88 L257.8,368.02 L258.16,368.16 L258.54,368.29 L258.92,368.41 L259.32,368.52 L259.75,368.62 L260.23,368.71 L260.74,368.78 L261.24,368.82 L261.75,368.86 L262.24,368.89 L262.72,368.91 L263.17,368.92 L263.6,368.93 L263.97,368.94 L264.29,368.95 L264.53,368.97 L264.72,368.98 L264.08,363.22 L263.83,363.28 L263.52,363.37 L263.19,363.48 L262.84,363.59 L262.47,363.71 L262.09,363.83 L261.71,363.95 L261.33,364.06 L260.96,364.17 L260.62,364.26 L260.32,364.33 L260.05,364.38 L259.78,364.41 L259.49,364.44 L259.22,364.45 L258.95,364.45 L258.67,364.45 L258.39,364.42 L258.12,364.33 L257.83,364.24 L257.52,364.13 L257.2,364.02 L256.85,363.88 L256.48,363.73 L256.09,363.57 L255.68,363.39 L255.24,363.2 L254.79,362.99 L254.33,362.77 L253.87,362.54 L253.4,362.3 L252.94,362.06 L252.49,361.81 L252.06,361.56 L251.65,361.32 L251.28,361.09 L250.95,360.87 L250.63,360.63 L250.31,360.37 L249.99,360.09 L249.66,359.79 L249.33,359.49 L248.99,359.17 L248.63,358.85 L248.26,358.54 L247.87,358.22 L247.45,357.92 L247.02,357.66 L246.63,357.43 L246.25,357.22 L245.86,357.02 L245.46,356.83 L245.06,356.64 L244.64,356.47 L244.21,356.32 L243.76,356.19 L243.31,356.09 L242.83,356.02 L242.34,355.99 L241.83,356.01 L241.31,356.09 L240.82,356.23 L240.36,356.41 L239.95,356.62 L239.57,356.85 L239.21,357.09 L238.89,357.33 L238.58,357.58 L238.29,357.82 L238.01,358.06 L237.74,358.28 L237.45,358.52 L237.11,358.81 L236.76,359.13 L236.43,359.47 L236.12,359.8 L235.81,360.13 L235.52,360.45 L235.24,360.76 L234.97,361.04 L234.72,361.29 L234.49,361.5 L234.29,361.67 L234.1,361.8 L233.88,361.94 L233.63,362.09 L233.39,362.22 L233.16,362.33 L232.96,362.43 L232.77,362.5 L232.61,362.55 L232.47,362.58 L232.37,362.59 L232.31,362.59 L232.27,362.59 L232.21,362.57 L232.1,362.53 L231.97,362.48 L231.87,362.43 L231.78,362.37 L231.68,362.3 L231.58,362.2 L231.45,362.06 L231.31,361.88 L231.14,361.63 L230.95,361.33 L230.74,360.96 L230.52,360.52 L230.28,360 L230.03,359.42 L229.77,358.76 L229.5,358.04 L229.22,357.27 L228.94,356.45 L228.66,355.6 L228.37,354.72 L228.08,353.82 L227.79,352.91 L227.5,351.99 L227.22,351.07 L226.94,350.15 L226.67,349.18 L226.39,348.17 L226.11,347.13 L225.83,346.07 L225.55,344.99 L225.26,343.91 L224.98,342.84 L224.69,341.78 L224.4,340.74 L224.11,339.73 L223.82,338.77 L223.53,337.84 L223.24,336.92 L222.94,335.99 L222.65,335.08 L222.35,334.18 L222.05,333.3 L221.75,332.45 L221.45,331.63 L221.14,330.85 L220.83,330.11 L220.52,329.41 L220.2,328.77 L219.88,328.19 L219.56,327.65 L219.23,327.14 L218.9,326.67 L218.55,326.23 L218.18,325.82 L217.79,325.45 L217.36,325.12 L216.88,324.83 L216.36,324.6 L215.8,324.45 L215.15,324.4 L214.45,324.5 L213.81,324.74 L213.29,325.06 L212.84,325.41 L212.43,325.79 L212.06,326.19 L211.72,326.6 L211.39,327.02 L211.09,327.44 L210.8,327.85 L210.53,328.25 L210.28,328.64 L210.02,329.06 L209.78,329.51 L209.57,329.95 L209.38,330.4 L209.21,330.84 L209.05,331.27 L208.9,331.71 L208.75,332.14 L208.6,332.56 L208.45,332.98 L208.3,333.4 L208.13,333.83 L207.95,334.26 L207.77,334.7 L207.59,335.13 L207.41,335.57 L207.22,336.01 L207.03,336.48 L206.82,336.96 L206.61,337.48 L206.39,338.03 L206.15,338.62 L205.9,339.25 L205.62,339.95 L205.33,340.72 L205.01,341.56 L204.68,342.47 L204.33,343.41 L203.97,344.39 L203.61,345.38 L203.24,346.38 L202.87,347.36 L202.51,348.32 L202.14,349.23 L201.79,350.09 L201.45,350.87 L201.11,351.63 L200.77,352.38 L200.44,353.11 L200.1,353.82 L199.77,354.5 L199.45,355.15 L199.12,355.75 L198.81,356.32 L198.5,356.83 L198.2,357.29 L197.91,357.69 L197.64,358.02 L197.39,358.29 L197.15,358.5 L196.93,358.67 L196.72,358.81 L196.52,358.92 L196.32,359 L196.12,359.07 L195.9,359.12 L195.68,359.16 L195.44,359.18 L195.18,359.2 L194.93,359.2 L194.73,359.19 L194.56,359.17 L194.37,359.12 L194.16,359.06 L193.93,358.97 L193.68,358.85 L193.41,358.71 L193.13,358.55 L192.82,358.36 L192.5,358.16 L192.15,357.94 L191.82,357.71 L191.5,357.49 L191.17,357.23 L190.81,356.93 L190.43,356.6 L190.03,356.24 L189.63,355.87 L189.21,355.48 L188.79,355.09 L188.37,354.71 L187.93,354.34 L187.5,353.98 L187.08,353.66 L186.72,353.39 L186.38,353.13 L186.03,352.84 L185.66,352.55 L185.28,352.26 L184.88,351.97 L184.45,351.69 L183.99,351.43 L183.49,351.2 L182.92,351.02 L182.31,350.91 L181.65,350.91 L181.02,351.01 L180.44,351.2 L179.92,351.45 L179.45,351.74 L179.01,352.06 L178.61,352.4 L178.22,352.74 L177.85,353.1 L177.5,353.46 L177.14,353.81 L176.8,354.16 L176.43,354.53 L176.01,354.95 L175.58,355.42 L175.16,355.92 L174.73,356.43 L174.31,356.95 L173.9,357.46 L173.49,357.97 L173.09,358.45 L172.71,358.91 L172.34,359.31 L172.01,359.67 L171.69,359.97 L171.37,360.25 L171.04,360.52 L170.73,360.77 L170.44,360.99 L170.15,361.18 L169.88,361.35 L169.63,361.5 L169.38,361.62 L169.14,361.73 L168.91,361.81 L168.69,361.88 L168.46,361.93 L168.23,361.97 L168.01,361.99 L167.77,361.99 L167.54,361.98 L167.3,361.96 L167.05,361.92 L166.8,361.86 L166.54,361.78 L166.28,361.69 L166.01,361.58 L165.73,361.46 L165.47,361.32 L165.22,361.18 L164.96,361 L164.68,360.78 L164.38,360.53 L164.07,360.26 L163.75,359.96 L163.43,359.64 L163.14,359.28 L162.88,358.87 L162.62,358.46 L162.36,358.06 L162.1,357.66 L161.87,357.29 L161.63,356.89 L161.38,356.46 L161.13,356.03 L160.88,355.58 L160.64,355.14 L160.4,354.72 L160.17,354.31 L159.96,353.93 L159.77,353.59 L159.59,353.29 L159.45,353.04 Z" fill="#c4c4c4" fill-opacity="0.8" stroke="#c4c4c4" stroke-opacity="0.5" stroke-width="0.6"/>
<path d="M157,368.8 C157.82,368.42 160.17,367.18 161.9,366.5 C163.63,365.82 165.57,365 167.4,364.7 C169.23,364.4 170.83,364.53 172.9,364.7 C174.97,364.87 177.73,365.7 179.8,365.7 C181.87,365.7 183.47,364.93 185.3,364.7 C187.13,364.47 188.97,364 190.8,364.3 C192.63,364.6 194.58,365.87 196.3,366.5 C198.02,367.13 199.73,368.28 201.1,368.1 C202.47,367.92 203.35,366.95 204.5,365.4 C205.65,363.85 206.78,360.75 208,358.8 C209.22,356.85 210.48,355.12 211.8,353.7 C213.12,352.28 214.65,350.53 215.9,350.3 C217.15,350.07 218.15,351.05 219.3,352.3 C220.45,353.55 221.65,355.62 222.8,357.8 C223.95,359.98 224.95,363.22 226.2,365.4 C227.45,367.58 229.03,369.93 230.3,370.9 C231.57,371.87 232.53,371.67 233.8,371.2 C235.07,370.73 236.53,369.07 237.9,368.1 C239.27,367.13 240.63,365.85 242,365.4 C243.37,364.95 244.5,365.05 246.1,365.4 C247.7,365.75 249.77,366.93 251.6,367.5 C253.43,368.07 255.48,368.92 257.1,368.8 C258.72,368.68 260.08,367.42 261.3,366.8 C262.52,366.18 263.88,365.38 264.4,365.1" fill="none" stroke="#bdbdbd" stroke-opacity="0.75" stroke-width="2.2" stroke-linecap="round"/>
<path d="M157,355.1 C157.58,355.78 159.23,357.9 160.5,359.2 C161.77,360.5 163.22,362.15 164.6,362.9 C165.98,363.65 167.42,363.97 168.8,363.7 C170.18,363.43 171.42,362.62 172.9,361.3 C174.38,359.98 176.22,357.23 177.7,355.8 C179.18,354.37 180.42,352.82 181.8,352.7 C183.18,352.58 184.5,354.02 186,355.1 C187.5,356.18 189.32,358.22 190.8,359.2 C192.28,360.18 193.53,361 194.9,361 C196.27,361 197.63,360.77 199,359.2 C200.37,357.63 201.72,354.7 203.1,351.6 C204.48,348.5 206.18,343.45 207.3,340.6 C208.42,337.75 209.05,336.33 209.8,334.5 C210.55,332.67 210.9,330.98 211.8,329.6 C212.7,328.22 214.07,326.2 215.2,326.2 C216.33,326.2 217.45,327.42 218.6,329.6 C219.75,331.78 220.95,335.63 222.1,339.3 C223.25,342.97 224.37,347.93 225.5,351.6 C226.63,355.27 227.87,359.18 228.9,361.3 C229.93,363.42 230.67,363.97 231.7,364.3 C232.73,364.63 233.95,364.03 235.1,363.3 C236.25,362.57 237.45,360.82 238.6,359.9 C239.75,358.98 240.75,357.92 242,357.8 C243.25,357.68 244.72,358.4 246.1,359.2 C247.48,360 248.68,361.57 250.3,362.6 C251.92,363.63 254.2,364.75 255.8,365.4 C257.4,366.05 258.47,366.38 259.9,366.5 C261.33,366.62 263.65,366.17 264.4,366.1" fill="none" stroke="#3d5b94" stroke-width="1.2"/>
<path d="M157,368.8 C157.82,368.42 160.17,367.18 161.9,366.5 C163.63,365.82 165.57,365 167.4,364.7 C169.23,364.4 170.83,364.53 172.9,364.7 C174.97,364.87 177.73,365.7 179.8,365.7 C181.87,365.7 183.47,364.93 185.3,364.7 C187.13,364.47 188.97,364 190.8,364.3 C192.63,364.6 194.58,365.87 196.3,366.5 C198.02,367.13 199.73,368.28 201.1,368.1 C202.47,367.92 203.35,366.95 204.5,365.4 C205.65,363.85 206.78,360.75 208,358.8 C209.22,356.85 210.48,355.12 211.8,353.7 C213.12,352.28 214.65,350.53 215.9,350.3 C217.15,350.07 218.15,351.05 219.3,352.3 C220.45,353.55 221.65,355.62 222.8,357.8 C223.95,359.98 224.95,363.22 226.2,365.4 C227.45,367.58 229.03,369.93 230.3,370.9 C231.57,371.87 232.53,371.67 233.8,371.2 C235.07,370.73 236.53,369.07 237.9,368.1 C239.27,367.13 240.63,365.85 242,365.4 C243.37,364.95 244.5,365.05 246.1,365.4 C247.7,365.75 249.77,366.93 251.6,367.5 C253.43,368.07 255.48,368.92 257.1,368.8 C258.72,368.68 260.08,367.42 261.3,366.8 C262.52,366.18 263.88,365.38 264.4,365.1" fill="none" stroke="#a8193f" stroke-width="1.2"/>
</g>
<clipPath id="clip156_321"><rect x="156.9" y="321.5" width="107.5" height="53.2"/></clipPath>
<rect x="156.9" y="321.5" width="107.5" height="53.2" fill="none" stroke="#111" stroke-width="1.1"/>
<line x1="152.9" y1="331" x2="156.9" y2="331" stroke="#111" stroke-width="1"/>
<text x="150.8" y="333.3" font-size="6.6" text-anchor="end" fill="#222" class="b">1.6</text>
<line x1="152.9" y1="344.4" x2="156.9" y2="344.4" stroke="#111" stroke-width="1"/>
<text x="150.8" y="346.7" font-size="6.6" text-anchor="end" fill="#222" class="b">1.4</text>
<line x1="152.9" y1="357.9" x2="156.9" y2="357.9" stroke="#111" stroke-width="1"/>
<text x="150.8" y="360.2" font-size="6.6" text-anchor="end" fill="#222" class="b">1.2</text>
<line x1="152.9" y1="371.4" x2="156.9" y2="371.4" stroke="#111" stroke-width="1"/>
<text x="150.8" y="373.7" font-size="6.6" text-anchor="end" fill="#222" class="b">1.0</text>
<line x1="175" y1="374.7" x2="175" y2="376.9" stroke="#111" stroke-width="1"/>
<text x="175" y="386.9" font-size="6.5" text-anchor="middle" fill="#222" class="b">−2000</text>
<line x1="210.5" y1="374.7" x2="210.5" y2="376.9" stroke="#111" stroke-width="1"/>
<text x="210.5" y="386.9" font-size="6.5" text-anchor="middle" fill="#222" class="b">0</text>
<line x1="246" y1="374.7" x2="246" y2="376.9" stroke="#111" stroke-width="1"/>
<text x="246" y="386.9" font-size="6.5" text-anchor="middle" fill="#222" class="b">2000</text>
<text x="210.65" y="399.3" font-size="9.8" text-anchor="middle" textLength="15.2" lengthAdjust="spacingAndGlyphs" fill="#222" class="b">CTCF</text>
<text x="159.3" y="328.1" font-size="5.35" fill="#222">Lost CTCF</text>
<text x="159.3" y="335" font-size="5.35" fill="#222"><tspan font-style="italic">P</tspan>-value = 0.04</text>
<line x1="239.3" y1="328.9" x2="243.9" y2="328.9" stroke="#a8193f" stroke-width="1.3"/>
<line x1="239.3" y1="334.8" x2="243.9" y2="334.8" stroke="#3d5b94" stroke-width="1.3"/>
<text x="246.7" y="330.8" font-size="5.8" fill="#222">AML</text>
<text x="258.9" y="327.6" font-size="3.2" fill="#222">sf</text>
<text x="246.7" y="336.7" font-size="5.8" fill="#222">NBM</text>
<line x1="307.5" y1="51" x2="365.2" y2="51" stroke="#333" stroke-width="1.3" stroke-dasharray="3.8,1.8"/>
<line x1="309.5" y1="27" x2="309.5" y2="92.9" stroke="#111" stroke-width="1.1"/>
<line x1="309.5" y1="92.9" x2="364.2" y2="92.9" stroke="#111" stroke-width="1.1"/>
<line x1="306.3" y1="30" x2="309.5" y2="30" stroke="#111" stroke-width="1"/>
<text x="304" y="32.2" font-size="6.4" text-anchor="end" fill="#222" class="b">1.5</text>
<line x1="306.3" y1="51" x2="309.5" y2="51" stroke="#111" stroke-width="1"/>
<text x="304" y="53.2" font-size="6.4" text-anchor="end" fill="#222" class="b">1.0</text>
<line x1="306.3" y1="72" x2="309.5" y2="72" stroke="#111" stroke-width="1"/>
<text x="304" y="74.2" font-size="6.4" text-anchor="end" fill="#222" class="b">0.5</text>
<line x1="306.3" y1="92.9" x2="309.5" y2="92.9" stroke="#111" stroke-width="1"/>
<text x="304" y="95.1" font-size="6.4" text-anchor="end" fill="#222" class="b">0.0</text>
<line x1="319.2" y1="92.9" x2="319.2" y2="95.1" stroke="#111" stroke-width="1"/>
<text x="321.3" y="103.1" font-size="6.6" text-anchor="middle" fill="#222" class="b">24</text>
<line x1="337.1" y1="92.9" x2="337.1" y2="95.1" stroke="#111" stroke-width="1"/>
<text x="335.4" y="103.1" font-size="6.6" text-anchor="middle" fill="#222" class="b">48</text>
<line x1="355" y1="92.9" x2="355" y2="95.1" stroke="#111" stroke-width="1"/>
<text x="352.5" y="103.1" font-size="6.6" text-anchor="middle" fill="#222" class="b">72</text>
<text x="334.4" y="114.1" font-size="8.6" text-anchor="middle" textLength="26.2" lengthAdjust="spacingAndGlyphs" fill="#222" class="b">Time(hr)</text>
<text transform="translate(289,59.8) rotate(-90)" x="0" y="0" font-size="7.7" text-anchor="middle" fill="#222" class="b" textLength="74.2" lengthAdjust="spacingAndGlyphs">Relative CTCF expression</text>
<rect x="313.2" y="83.6" width="12.6" height="8.8" fill="#a50027"/>
<line x1="319.5" y1="83.6" x2="319.5" y2="81.1" stroke="#111" stroke-width="1"/>
<line x1="316.5" y1="81.1" x2="322.5" y2="81.1" stroke="#111" stroke-width="1.1"/>
<rect x="330.8" y="82.1" width="13" height="10.3" fill="#a50027"/>
<line x1="337.3" y1="82.1" x2="337.3" y2="77.4" stroke="#111" stroke-width="1"/>
<line x1="334.3" y1="77.4" x2="340.3" y2="77.4" stroke="#111" stroke-width="1.1"/>
<rect x="348.3" y="79.5" width="13.1" height="12.9" fill="#a50027"/>
<line x1="354.85" y1="79.5" x2="354.85" y2="75.2" stroke="#111" stroke-width="1"/>
<line x1="351.85" y1="75.2" x2="357.85" y2="75.2" stroke="#111" stroke-width="1.1"/>
<circle cx="319.5" cy="74" r="0.8" fill="#222"/>
<circle cx="337.3" cy="73.2" r="0.8" fill="#222"/>
<circle cx="354.9" cy="71.6" r="0.8" fill="#222"/>
<text x="422.6" y="27.8" font-size="6.6" text-anchor="middle" fill="#222" class="b">48 hr</text>
<text x="470.2" y="27.8" font-size="6.6" text-anchor="middle" fill="#222" class="b">72 hr</text>
<line x1="401" y1="32.4" x2="443.5" y2="32.4" stroke="#333" stroke-width="1.2"/>
<line x1="449" y1="32.4" x2="491.5" y2="32.4" stroke="#333" stroke-width="1.2"/>
<rect x="398.6" y="35.8" width="94.8" height="21.3" rx="1.6" fill="#ebebeb" stroke="#707070" stroke-width="1"/>
<rect x="398.6" y="61.4" width="94.8" height="18.6" rx="1.6" fill="#ebebeb" stroke="#707070" stroke-width="1"/>
<g filter="url(#bl)" fill="none" stroke-linecap="round">
<path d="M403,39.4 Q411,40 419,42" stroke="#d0d0d0" stroke-width="1.2"/>
<path d="M403,43 L419,43.6" stroke="#dadada" stroke-width="1"/>
<path d="M427,42.4 L443,42" stroke="#cdcdcd" stroke-width="1.3"/>
<path d="M427,45.2 L443,45" stroke="#dadada" stroke-width="1"/>
<path d="M451,41.5 L467,41.3" stroke="#c8c8c8" stroke-width="1.4"/>
<path d="M451,44.8 L467,44.6" stroke="#cbcbcb" stroke-width="1.4"/>
<path d="M475,41.6 L491,41.6" stroke="#cfcfcf" stroke-width="1.3"/>
<path d="M475,44.8 L491,44.8" stroke="#d9d9d9" stroke-width="1"/>
</g>
<g filter="url(#bl)" stroke-linecap="round" fill="none">
<path d="M403.2,49.2 Q407,51.8 413,52.1 L419,52.3" stroke="#505050" stroke-width="3.4"/>
<path d="M427.5,52 L442.4,51.8" stroke="#8c8c8c" stroke-width="3.0"/>
<path d="M451.6,51.3 Q458.5,52 466,51.3" stroke="#111" stroke-width="3.8"/>
<path d="M475,51.1 L489.6,51.1" stroke="#a3a3a3" stroke-width="2.8"/>
<path d="M402,67.8 Q405,69.6 411,70.1 L418.4,70.7" stroke="#0a0a0a" stroke-width="3.2"/>
<path d="M425,71 Q432,70.2 440.8,71.4" stroke="#050505" stroke-width="3.8"/>
<path d="M448.8,71.8 Q456,71.4 464.6,72.2" stroke="#0a0a0a" stroke-width="3.1"/>
<path d="M472.5,71.4 Q481,70.6 490.4,71.6" stroke="#050505" stroke-width="3.3"/>
</g>
<text x="396.2" y="49.6" font-size="6.6" text-anchor="end" fill="#222" class="b">82kD</text>
<text x="396.2" y="72.6" font-size="6.6" text-anchor="end" fill="#222" class="b">42kD</text>
<text x="496" y="48.6" font-size="6.8" textLength="16.6" lengthAdjust="spacingAndGlyphs" fill="#222" class="b">CTCF</text>
<text x="496" y="72.4" font-size="6.8" fill="#222" class="b">Actin</text>
<text transform="translate(416.6,85.2) rotate(-45)" font-size="6.1" text-anchor="end" fill="#222" class="b" textLength="28.4" lengthAdjust="spacingAndGlyphs">Scramble</text>
<text transform="translate(433.2,85.2) rotate(-45)" font-size="6.1" text-anchor="end" fill="#222" class="b" textLength="18.8" lengthAdjust="spacingAndGlyphs">siRNA</text>
<text transform="translate(460.7,85.2) rotate(-45)" font-size="6.1" text-anchor="end" fill="#222" class="b" textLength="28.4" lengthAdjust="spacingAndGlyphs">Scramble</text>
<text transform="translate(484.2,85.2) rotate(-45)" font-size="6.1" text-anchor="end" fill="#222" class="b" textLength="18.8" lengthAdjust="spacingAndGlyphs">siRNA</text>
<line x1="301.5" y1="196.3" x2="354.8" y2="196.3" stroke="#222" stroke-width="1.3" stroke-dasharray="3.5,2.3"/>
<line x1="304.5" y1="153.3" x2="304.5" y2="217.3" stroke="#111" stroke-width="1.1"/>
<line x1="304.5" y1="217.3" x2="353.6" y2="217.3" stroke="#111" stroke-width="1.1"/>
<line x1="301.3" y1="154.5" x2="304.5" y2="154.5" stroke="#111" stroke-width="1"/>
<text x="298.8" y="156.7" font-size="6.4" text-anchor="end" fill="#222" class="b">3</text>
<line x1="301.3" y1="175.4" x2="304.5" y2="175.4" stroke="#111" stroke-width="1"/>
<text x="298.8" y="177.6" font-size="6.4" text-anchor="end" fill="#222" class="b">2</text>
<line x1="301.3" y1="196.3" x2="304.5" y2="196.3" stroke="#111" stroke-width="1"/>
<text x="298.8" y="198.5" font-size="6.4" text-anchor="end" fill="#222" class="b">1</text>
<line x1="301.3" y1="217.3" x2="304.5" y2="217.3" stroke="#111" stroke-width="1"/>
<text x="298.8" y="219.5" font-size="6.4" text-anchor="end" fill="#222" class="b">0</text>
<line x1="312.9" y1="217.3" x2="312.9" y2="219.5" stroke="#111" stroke-width="1"/>
<text x="312.9" y="229.3" font-size="6.6" text-anchor="middle" fill="#222" class="b">24</text>
<line x1="329.2" y1="217.3" x2="329.2" y2="219.5" stroke="#111" stroke-width="1"/>
<text x="329.2" y="229.3" font-size="6.6" text-anchor="middle" fill="#222" class="b">48</text>
<line x1="345.6" y1="217.3" x2="345.6" y2="219.5" stroke="#111" stroke-width="1"/>
<text x="345.6" y="229.3" font-size="6.6" text-anchor="middle" fill="#222" class="b">72</text>
<text x="329.9" y="241.2" font-size="8.6" text-anchor="middle" textLength="26.2" lengthAdjust="spacingAndGlyphs" fill="#222" class="b">Time(hr)</text>
<text transform="translate(289.4,184.7) rotate(-90)" x="0" y="0" font-size="7.7" text-anchor="middle" fill="#222" class="b" textLength="76" lengthAdjust="spacingAndGlyphs">Relative CD61 expression</text>
<rect x="306.2" y="187.7" width="13.3" height="29.1" fill="#a50027"/>
<line x1="312.85" y1="187.7" x2="312.85" y2="181" stroke="#111" stroke-width="1"/>
<line x1="309.85" y1="181" x2="315.85" y2="181" stroke="#111" stroke-width="1.1"/>
<rect x="322.6" y="174.1" width="13.2" height="42.7" fill="#a50027"/>
<line x1="329.2" y1="174.1" x2="329.2" y2="164.8" stroke="#111" stroke-width="1"/>
<line x1="326.2" y1="164.8" x2="332.2" y2="164.8" stroke="#111" stroke-width="1.1"/>
<rect x="338.9" y="177.8" width="13.4" height="39" fill="#a50027"/>
<line x1="345.6" y1="177.8" x2="345.6" y2="168" stroke="#111" stroke-width="1"/>
<line x1="342.6" y1="168" x2="348.6" y2="168" stroke="#111" stroke-width="1.1"/>
<line x1="301.5" y1="196.3" x2="354.8" y2="196.3" stroke="#222" stroke-width="1.2" stroke-dasharray="3.5,2.3"/>
<circle cx="328.15" cy="158.4" r="0.8" fill="#222"/>
<circle cx="330.25" cy="158.4" r="0.8" fill="#222"/>
<circle cx="344.55" cy="158.4" r="0.8" fill="#222"/>
<circle cx="346.65" cy="158.4" r="0.8" fill="#222"/>
<line x1="388.6" y1="152.6" x2="388.6" y2="217.3" stroke="#111" stroke-width="1.1"/>
<line x1="388.6" y1="217.3" x2="439" y2="217.3" stroke="#111" stroke-width="1.1"/>
<line x1="385.4" y1="154.9" x2="388.6" y2="154.9" stroke="#111" stroke-width="1"/>
<text x="382.6" y="157.1" font-size="6.4" text-anchor="end" fill="#222" class="b">1.5</text>
<line x1="385.4" y1="175.8" x2="388.6" y2="175.8" stroke="#111" stroke-width="1"/>
<text x="382.6" y="178" font-size="6.4" text-anchor="end" fill="#222" class="b">1.0</text>
<line x1="385.4" y1="196.7" x2="388.6" y2="196.7" stroke="#111" stroke-width="1"/>
<text x="382.6" y="198.9" font-size="6.4" text-anchor="end" fill="#222" class="b">0.5</text>
<line x1="385.4" y1="217.3" x2="388.6" y2="217.3" stroke="#111" stroke-width="1"/>
<text x="382.6" y="219.5" font-size="6.4" text-anchor="end" fill="#222" class="b">0.0</text>
<line x1="397.2" y1="217.3" x2="397.2" y2="219.5" stroke="#111" stroke-width="1"/>
<text x="397.2" y="229.3" font-size="6.6" text-anchor="middle" fill="#222" class="b">24</text>
<line x1="413.6" y1="217.3" x2="413.6" y2="219.5" stroke="#111" stroke-width="1"/>
<text x="413.6" y="229.3" font-size="6.6" text-anchor="middle" fill="#222" class="b">48</text>
<line x1="430.2" y1="217.3" x2="430.2" y2="219.5" stroke="#111" stroke-width="1"/>
<text x="430.2" y="229.3" font-size="6.6" text-anchor="middle" fill="#222" class="b">72</text>
<text x="414.4" y="241.2" font-size="8.6" text-anchor="middle" textLength="26.2" lengthAdjust="spacingAndGlyphs" fill="#222" class="b">Time(hr)</text>
<text transform="translate(368.2,184.7) rotate(-90)" x="0" y="0" font-size="7.7" text-anchor="middle" fill="#222" class="b" textLength="73.6" lengthAdjust="spacingAndGlyphs">Relative Ki67 expression</text>
<rect x="390.5" y="174.9" width="13.4" height="41.9" fill="#a50027"/>
<line x1="397.2" y1="174.9" x2="397.2" y2="170.8" stroke="#111" stroke-width="1"/>
<line x1="394.2" y1="170.8" x2="400.2" y2="170.8" stroke="#111" stroke-width="1.1"/>
<rect x="407.1" y="177.6" width="13" height="39.2" fill="#a50027"/>
<line x1="413.6" y1="177.6" x2="413.6" y2="172.1" stroke="#111" stroke-width="1"/>
<line x1="410.6" y1="172.1" x2="416.6" y2="172.1" stroke="#111" stroke-width="1.1"/>
<rect x="423.6" y="184.4" width="13.1" height="32.4" fill="#a50027"/>
<line x1="430.15" y1="184.4" x2="430.15" y2="182.6" stroke="#111" stroke-width="1"/>
<line x1="427.15" y1="182.6" x2="433.15" y2="182.6" stroke="#111" stroke-width="1.1"/>
<line x1="388.6" y1="175.8" x2="439" y2="175.8" stroke="#222" stroke-width="1.2" stroke-dasharray="3.3,2.3"/>
<circle cx="430.6" cy="166" r="0.8" fill="#222"/>
<line x1="330.4" y1="279.5" x2="330.4" y2="364.3" stroke="#111" stroke-width="1.1"/>
<line x1="330.4" y1="364.3" x2="407" y2="364.3" stroke="#111" stroke-width="1.1"/>
<line x1="327.2" y1="281.5" x2="330.4" y2="281.5" stroke="#111" stroke-width="1"/>
<text x="324.8" y="283.7" font-size="6.4" text-anchor="end" fill="#222" class="b">2.5</text>
<line x1="327.2" y1="298.2" x2="330.4" y2="298.2" stroke="#111" stroke-width="1"/>
<text x="324.8" y="300.4" font-size="6.4" text-anchor="end" fill="#222" class="b">2.0</text>
<line x1="327.2" y1="314.9" x2="330.4" y2="314.9" stroke="#111" stroke-width="1"/>
<text x="324.8" y="317.1" font-size="6.4" text-anchor="end" fill="#222" class="b">1.5</text>
<line x1="327.2" y1="331.3" x2="330.4" y2="331.3" stroke="#111" stroke-width="1"/>
<text x="324.8" y="333.5" font-size="6.4" text-anchor="end" fill="#222" class="b">1.0</text>
<line x1="327.2" y1="348" x2="330.4" y2="348" stroke="#111" stroke-width="1"/>
<text x="324.8" y="350.2" font-size="6.4" text-anchor="end" fill="#222" class="b">0.5</text>
<line x1="327.2" y1="364.3" x2="330.4" y2="364.3" stroke="#111" stroke-width="1"/>
<text x="324.8" y="366.5" font-size="6.4" text-anchor="end" fill="#222" class="b">0.0</text>
<line x1="349.8" y1="364.3" x2="349.8" y2="366.5" stroke="#111" stroke-width="1"/>
<text x="349.8" y="376.3" font-size="6.6" text-anchor="middle" fill="#222" class="b">48</text>
<line x1="388" y1="364.3" x2="388" y2="366.5" stroke="#111" stroke-width="1"/>
<text x="388" y="376.3" font-size="6.6" text-anchor="middle" fill="#222" class="b">72</text>
<text x="369.1" y="387.9" font-size="8.6" text-anchor="middle" textLength="26.2" lengthAdjust="spacingAndGlyphs" fill="#222" class="b">Time(hr)</text>
<rect x="335.2" y="308" width="13" height="55.8" fill="#a50027"/>
<line x1="341.7" y1="308" x2="341.7" y2="303.9" stroke="#111" stroke-width="1"/>
<line x1="338.7" y1="303.9" x2="344.7" y2="303.9" stroke="#111" stroke-width="1.1"/>
<rect x="351.2" y="295.3" width="13.1" height="68.5" fill="#2e4c7e"/>
<line x1="357.75" y1="295.3" x2="357.75" y2="294.5" stroke="#111" stroke-width="1"/>
<line x1="354.75" y1="294.5" x2="360.75" y2="294.5" stroke="#111" stroke-width="1.1"/>
<rect x="373.4" y="307.5" width="12.9" height="56.3" fill="#a50027"/>
<line x1="379.85" y1="307.5" x2="379.85" y2="302.1" stroke="#111" stroke-width="1"/>
<line x1="376.85" y1="302.1" x2="382.85" y2="302.1" stroke="#111" stroke-width="1.1"/>
<rect x="389.3" y="292.8" width="13" height="71" fill="#2e4c7e"/>
<line x1="395.8" y1="292.8" x2="395.8" y2="290.4" stroke="#111" stroke-width="1"/>
<line x1="392.8" y1="290.4" x2="398.8" y2="290.4" stroke="#111" stroke-width="1.1"/>
<circle cx="355.3" cy="283" r="0.8" fill="#222"/>
<circle cx="357.4" cy="283" r="0.8" fill="#222"/>
<circle cx="359.5" cy="283" r="0.8" fill="#222"/>
<circle cx="393.9" cy="280.5" r="0.8" fill="#222"/>
<circle cx="396" cy="280.5" r="0.8" fill="#222"/>
<circle cx="398.1" cy="280.5" r="0.8" fill="#222"/>
<rect x="406.2" y="306.2" width="5.8" height="5.6" fill="#a50027"/>
<rect x="406.2" y="315.2" width="5.8" height="5.6" fill="#2e4c7e"/>
<text x="414.4" y="311.2" font-size="5.6" fill="#222">Sramble</text>
<text x="414.4" y="320.2" font-size="5.6" fill="#222">siRNA</text>
<text transform="translate(289.7,321.4) rotate(-90)" font-size="7.5" text-anchor="middle" fill="#222" class="b" textLength="93.2" lengthAdjust="spacingAndGlyphs">Normalized mean fluorescence</text>
<text transform="translate(299.9,321.9) rotate(-90)" font-size="7.5" text-anchor="middle" fill="#222" class="b" textLength="68.7" lengthAdjust="spacingAndGlyphs">intensity (MFI) of CD61</text>
<text transform="translate(309.8,321.9) rotate(-90)" font-size="7.5" text-anchor="middle" fill="#222" class="b" textLength="68.7" lengthAdjust="spacingAndGlyphs">against untreated cells</text>
<rect x="0.5" y="0.5" width="519" height="406" fill="none" stroke="#000" stroke-width="1.6"/>
</svg></body></html>
